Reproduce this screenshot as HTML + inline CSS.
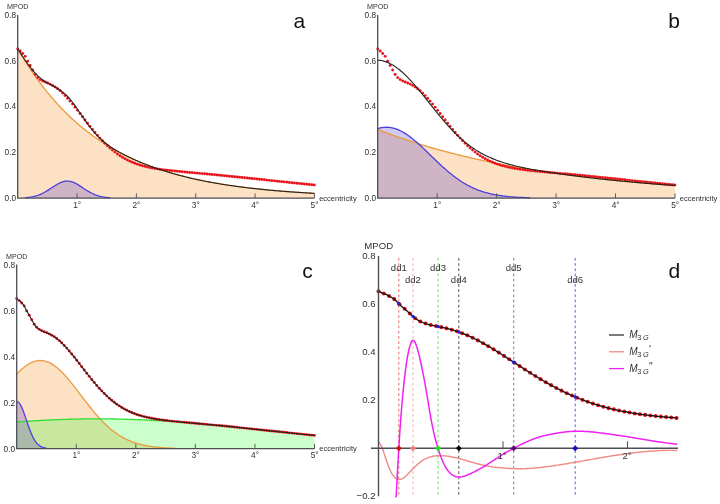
<!DOCTYPE html>
<html><head><meta charset="utf-8"><title>MPOD fits</title>
<style>
html,body{margin:0;padding:0;background:#fff}
svg{display:block}
text{font-family:"Liberation Sans",sans-serif;fill:#303030}
.t{font-size:8.3px}
.m{font-size:7.15px}
.e{font-size:7.5px}
.L{font-size:21px;fill:#111}
.td{font-size:9.6px}
.dl{font-size:9.5px}
.lg{font-size:10px;font-style:italic}
</style></head><body>
<svg width="720" height="504" viewBox="0 0 720 504">
<rect width="720" height="504" fill="#fff"/>
<path d="M17.7 48.76 L18.89 50.81 L20.07 52.82 L21.26 54.81 L22.45 56.78 L23.63 58.71 L24.82 60.62 L26.01 62.5 L27.19 64.36 L28.38 66.19 L29.57 68 L30.75 69.78 L31.94 71.54 L33.13 73.27 L34.32 74.98 L35.5 76.67 L36.69 78.33 L37.88 79.98 L39.06 81.59 L40.25 83.19 L41.44 84.76 L42.62 86.32 L43.81 87.85 L45 89.36 L46.18 90.85 L47.37 92.32 L48.56 93.77 L49.74 95.19 L50.93 96.6 L52.12 97.99 L53.3 99.37 L54.49 100.72 L55.68 102.05 L56.86 103.37 L58.05 104.67 L59.24 105.95 L60.42 107.21 L61.61 108.45 L62.8 109.68 L63.99 110.89 L65.17 112.09 L66.36 113.26 L67.55 114.43 L68.73 115.57 L69.92 116.7 L71.11 117.82 L72.29 118.92 L73.48 120 L74.67 121.07 L75.85 122.13 L77.04 123.17 L78.23 124.2 L79.41 125.21 L80.6 126.21 L81.79 127.19 L82.97 128.16 L84.16 129.12 L85.35 130.07 L86.53 131 L87.72 131.92 L88.91 132.82 L90.09 133.72 L91.28 134.6 L92.47 135.47 L93.66 136.33 L94.84 137.17 L96.03 138.01 L97.22 138.83 L98.4 139.64 L99.59 140.44 L100.78 141.23 L101.96 142.01 L103.15 142.78 L104.34 143.54 L105.52 144.29 L106.71 145.02 L107.9 145.75 L109.08 146.47 L110.27 147.17 L111.46 147.87 L112.64 148.56 L113.83 149.24 L115.02 149.91 L116.2 150.57 L117.39 151.22 L118.58 151.86 L119.76 152.49 L120.95 153.12 L122.14 153.74 L123.33 154.34 L124.51 154.94 L125.7 155.53 L126.89 156.12 L128.07 156.69 L129.26 157.26 L130.45 157.82 L131.63 158.37 L132.82 158.91 L134.01 159.45 L135.19 159.98 L136.38 160.5 L137.57 161.02 L138.75 161.53 L139.94 162.03 L141.13 162.52 L142.31 163.01 L143.5 163.49 L144.69 163.96 L145.87 164.43 L147.06 164.89 L148.25 165.35 L149.43 165.8 L150.62 166.24 L151.81 166.67 L153 167.11 L154.18 167.53 L155.37 167.95 L156.56 168.36 L157.74 168.77 L158.93 169.17 L160.12 169.57 L161.3 169.96 L162.49 170.34 L163.68 170.72 L164.86 171.1 L166.05 171.47 L167.24 171.83 L168.42 172.19 L169.61 172.55 L170.8 172.9 L171.98 173.24 L173.17 173.58 L174.36 173.92 L175.54 174.25 L176.73 174.58 L177.92 174.9 L179.1 175.22 L180.29 175.53 L181.48 175.84 L182.67 176.15 L183.85 176.45 L185.04 176.74 L186.23 177.04 L187.41 177.32 L188.6 177.61 L189.79 177.89 L190.97 178.17 L192.16 178.44 L193.35 178.71 L194.53 178.97 L195.72 179.24 L196.91 179.49 L198.09 179.75 L199.28 180 L200.47 180.25 L201.65 180.49 L202.84 180.73 L204.03 180.97 L205.21 181.21 L206.4 181.44 L207.59 181.67 L208.77 181.89 L209.96 182.11 L211.15 182.33 L212.34 182.55 L213.52 182.76 L214.71 182.97 L215.9 183.18 L217.08 183.38 L218.27 183.58 L219.46 183.78 L220.64 183.98 L221.83 184.17 L223.02 184.36 L224.2 184.55 L225.39 184.74 L226.58 184.92 L227.76 185.1 L228.95 185.28 L230.14 185.46 L231.32 185.63 L232.51 185.8 L233.7 185.97 L234.88 186.13 L236.07 186.3 L237.26 186.46 L238.44 186.62 L239.63 186.78 L240.82 186.93 L242.01 187.08 L243.19 187.24 L244.38 187.38 L245.57 187.53 L246.75 187.68 L247.94 187.82 L249.13 187.96 L250.31 188.1 L251.5 188.24 L252.69 188.37 L253.87 188.5 L255.06 188.63 L256.25 188.76 L257.43 188.89 L258.62 189.02 L259.81 189.14 L260.99 189.27 L262.18 189.39 L263.37 189.51 L264.55 189.62 L265.74 189.74 L266.93 189.85 L268.11 189.97 L269.3 190.08 L270.49 190.19 L271.68 190.3 L272.86 190.4 L274.05 190.51 L275.24 190.61 L276.42 190.72 L277.61 190.82 L278.8 190.92 L279.98 191.02 L281.17 191.11 L282.36 191.21 L283.54 191.3 L284.73 191.4 L285.92 191.49 L287.1 191.58 L288.29 191.67 L289.48 191.76 L290.66 191.84 L291.85 191.93 L293.04 192.01 L294.22 192.1 L295.41 192.18 L296.6 192.26 L297.78 192.34 L298.97 192.42 L300.16 192.5 L301.35 192.57 L302.53 192.65 L303.72 192.72 L304.91 192.8 L306.09 192.87 L307.28 192.94 L308.47 193.01 L309.65 193.08 L310.84 193.15 L312.03 193.22 L313.21 193.28 L314.4 193.35 L314.4 198.1 L17.7 198.1 Z" fill="#f79b3e" fill-opacity="0.3"/>
<path d="M17.7 197.99 L18.89 197.97 L20.07 197.93 L21.26 197.89 L22.45 197.83 L23.63 197.77 L24.82 197.69 L26.01 197.6 L27.19 197.49 L28.38 197.35 L29.57 197.2 L30.75 197.02 L31.94 196.81 L33.13 196.57 L34.32 196.3 L35.5 195.99 L36.69 195.64 L37.88 195.25 L39.06 194.82 L40.25 194.34 L41.44 193.82 L42.62 193.26 L43.81 192.65 L45 192 L46.18 191.32 L47.37 190.6 L48.56 189.85 L49.74 189.09 L50.93 188.31 L52.12 187.52 L53.3 186.74 L54.49 185.97 L55.68 185.22 L56.86 184.51 L58.05 183.84 L59.24 183.23 L60.42 182.67 L61.61 182.19 L62.8 181.8 L63.99 181.48 L65.17 181.26 L66.36 181.14 L67.55 181.12 L68.73 181.19 L69.92 181.36 L71.11 181.63 L72.29 181.98 L73.48 182.42 L74.67 182.94 L75.85 183.53 L77.04 184.17 L78.23 184.86 L79.41 185.59 L80.6 186.35 L81.79 187.13 L82.97 187.92 L84.16 188.7 L85.35 189.47 L86.53 190.23 L87.72 190.96 L88.91 191.66 L90.09 192.33 L91.28 192.96 L92.47 193.54 L93.66 194.09 L94.84 194.58 L96.03 195.04 L97.22 195.45 L98.4 195.82 L99.59 196.15 L100.78 196.44 L101.96 196.7 L103.15 196.92 L104.34 197.11 L105.52 197.28 L106.71 197.42 L107.9 197.54 L109.08 197.65 L110.27 197.73 L111.46 197.8 L112.64 197.86 L113.83 197.91 L115.02 197.95 L116.2 197.98 L117.39 198.01 L118.58 198.03 L119.76 198.04 L120.95 198.06 L122.14 198.07 L123.33 198.07 L124.51 198.08 L125.7 198.09 L126.89 198.09 L128.07 198.09 L129.26 198.09 L130.45 198.1 L131.63 198.1 L132.82 198.1 L134.01 198.1 L135.19 198.1 L136.38 198.1 L137.57 198.1 L138.75 198.1 L139.94 198.1 L141.13 198.1 L142.31 198.1 L143.5 198.1 L144.69 198.1 L145.87 198.1 L147.06 198.1 L148.25 198.1 L149.43 198.1 L150.62 198.1 L151.81 198.1 L153 198.1 L154.18 198.1 L155.37 198.1 L156.56 198.1 L157.74 198.1 L158.93 198.1 L160.12 198.1 L161.3 198.1 L162.49 198.1 L163.68 198.1 L164.86 198.1 L166.05 198.1 L167.24 198.1 L168.42 198.1 L169.61 198.1 L170.8 198.1 L171.98 198.1 L173.17 198.1 L174.36 198.1 L175.54 198.1 L176.73 198.1 L177.92 198.1 L179.1 198.1 L180.29 198.1 L181.48 198.1 L182.67 198.1 L183.85 198.1 L185.04 198.1 L186.23 198.1 L187.41 198.1 L188.6 198.1 L189.79 198.1 L190.97 198.1 L192.16 198.1 L193.35 198.1 L194.53 198.1 L195.72 198.1 L196.91 198.1 L198.09 198.1 L199.28 198.1 L200.47 198.1 L201.65 198.1 L202.84 198.1 L204.03 198.1 L205.21 198.1 L206.4 198.1 L207.59 198.1 L208.77 198.1 L209.96 198.1 L211.15 198.1 L212.34 198.1 L213.52 198.1 L214.71 198.1 L215.9 198.1 L217.08 198.1 L218.27 198.1 L219.46 198.1 L220.64 198.1 L221.83 198.1 L223.02 198.1 L224.2 198.1 L225.39 198.1 L226.58 198.1 L227.76 198.1 L228.95 198.1 L230.14 198.1 L231.32 198.1 L232.51 198.1 L233.7 198.1 L234.88 198.1 L236.07 198.1 L237.26 198.1 L238.44 198.1 L239.63 198.1 L240.82 198.1 L242.01 198.1 L243.19 198.1 L244.38 198.1 L245.57 198.1 L246.75 198.1 L247.94 198.1 L249.13 198.1 L250.31 198.1 L251.5 198.1 L252.69 198.1 L253.87 198.1 L255.06 198.1 L256.25 198.1 L257.43 198.1 L258.62 198.1 L259.81 198.1 L260.99 198.1 L262.18 198.1 L263.37 198.1 L264.55 198.1 L265.74 198.1 L266.93 198.1 L268.11 198.1 L269.3 198.1 L270.49 198.1 L271.68 198.1 L272.86 198.1 L274.05 198.1 L275.24 198.1 L276.42 198.1 L277.61 198.1 L278.8 198.1 L279.98 198.1 L281.17 198.1 L282.36 198.1 L283.54 198.1 L284.73 198.1 L285.92 198.1 L287.1 198.1 L288.29 198.1 L289.48 198.1 L290.66 198.1 L291.85 198.1 L293.04 198.1 L294.22 198.1 L295.41 198.1 L296.6 198.1 L297.78 198.1 L298.97 198.1 L300.16 198.1 L301.35 198.1 L302.53 198.1 L303.72 198.1 L304.91 198.1 L306.09 198.1 L307.28 198.1 L308.47 198.1 L309.65 198.1 L310.84 198.1 L312.03 198.1 L313.21 198.1 L314.4 198.1 L314.4 198.1 L17.7 198.1 Z" fill="#5a40c8" fill-opacity="0.28"/>
<path d="M17.7 48.76 L18.89 50.81 L20.07 52.82 L21.26 54.81 L22.45 56.78 L23.63 58.71 L24.82 60.62 L26.01 62.5 L27.19 64.36 L28.38 66.19 L29.57 68 L30.75 69.78 L31.94 71.54 L33.13 73.27 L34.32 74.98 L35.5 76.67 L36.69 78.33 L37.88 79.98 L39.06 81.59 L40.25 83.19 L41.44 84.76 L42.62 86.32 L43.81 87.85 L45 89.36 L46.18 90.85 L47.37 92.32 L48.56 93.77 L49.74 95.19 L50.93 96.6 L52.12 97.99 L53.3 99.37 L54.49 100.72 L55.68 102.05 L56.86 103.37 L58.05 104.67 L59.24 105.95 L60.42 107.21 L61.61 108.45 L62.8 109.68 L63.99 110.89 L65.17 112.09 L66.36 113.26 L67.55 114.43 L68.73 115.57 L69.92 116.7 L71.11 117.82 L72.29 118.92 L73.48 120 L74.67 121.07 L75.85 122.13 L77.04 123.17 L78.23 124.2 L79.41 125.21 L80.6 126.21 L81.79 127.19 L82.97 128.16 L84.16 129.12 L85.35 130.07 L86.53 131 L87.72 131.92 L88.91 132.82 L90.09 133.72 L91.28 134.6 L92.47 135.47 L93.66 136.33 L94.84 137.17 L96.03 138.01 L97.22 138.83 L98.4 139.64 L99.59 140.44 L100.78 141.23 L101.96 142.01 L103.15 142.78 L104.34 143.54 L105.52 144.29 L106.71 145.02 L107.9 145.75 L109.08 146.47 L110.27 147.17 L111.46 147.87 L112.64 148.56 L113.83 149.24 L115.02 149.91 L116.2 150.57 L117.39 151.22 L118.58 151.86 L119.76 152.49 L120.95 153.12 L122.14 153.74 L123.33 154.34 L124.51 154.94 L125.7 155.53 L126.89 156.12 L128.07 156.69 L129.26 157.26 L130.45 157.82 L131.63 158.37 L132.82 158.91 L134.01 159.45 L135.19 159.98 L136.38 160.5 L137.57 161.02 L138.75 161.53 L139.94 162.03 L141.13 162.52 L142.31 163.01 L143.5 163.49 L144.69 163.96 L145.87 164.43 L147.06 164.89 L148.25 165.35 L149.43 165.8 L150.62 166.24 L151.81 166.67 L153 167.11 L154.18 167.53 L155.37 167.95 L156.56 168.36 L157.74 168.77 L158.93 169.17 L160.12 169.57 L161.3 169.96 L162.49 170.34 L163.68 170.72 L164.86 171.1 L166.05 171.47 L167.24 171.83 L168.42 172.19 L169.61 172.55 L170.8 172.9 L171.98 173.24 L173.17 173.58 L174.36 173.92 L175.54 174.25 L176.73 174.58 L177.92 174.9 L179.1 175.22 L180.29 175.53 L181.48 175.84 L182.67 176.15 L183.85 176.45 L185.04 176.74 L186.23 177.04 L187.41 177.32 L188.6 177.61 L189.79 177.89 L190.97 178.17 L192.16 178.44 L193.35 178.71 L194.53 178.97 L195.72 179.24 L196.91 179.49 L198.09 179.75 L199.28 180 L200.47 180.25 L201.65 180.49 L202.84 180.73 L204.03 180.97 L205.21 181.21 L206.4 181.44 L207.59 181.67 L208.77 181.89 L209.96 182.11 L211.15 182.33 L212.34 182.55 L213.52 182.76 L214.71 182.97 L215.9 183.18 L217.08 183.38 L218.27 183.58 L219.46 183.78 L220.64 183.98 L221.83 184.17 L223.02 184.36 L224.2 184.55 L225.39 184.74 L226.58 184.92 L227.76 185.1 L228.95 185.28 L230.14 185.46 L231.32 185.63 L232.51 185.8 L233.7 185.97 L234.88 186.13 L236.07 186.3 L237.26 186.46 L238.44 186.62 L239.63 186.78 L240.82 186.93 L242.01 187.08 L243.19 187.24 L244.38 187.38 L245.57 187.53 L246.75 187.68 L247.94 187.82 L249.13 187.96 L250.31 188.1 L251.5 188.24 L252.69 188.37 L253.87 188.5 L255.06 188.63 L256.25 188.76 L257.43 188.89 L258.62 189.02 L259.81 189.14 L260.99 189.27 L262.18 189.39 L263.37 189.51 L264.55 189.62 L265.74 189.74 L266.93 189.85 L268.11 189.97 L269.3 190.08 L270.49 190.19 L271.68 190.3 L272.86 190.4 L274.05 190.51 L275.24 190.61 L276.42 190.72 L277.61 190.82 L278.8 190.92 L279.98 191.02 L281.17 191.11 L282.36 191.21 L283.54 191.3 L284.73 191.4 L285.92 191.49 L287.1 191.58 L288.29 191.67 L289.48 191.76 L290.66 191.84 L291.85 191.93 L293.04 192.01 L294.22 192.1 L295.41 192.18 L296.6 192.26 L297.78 192.34 L298.97 192.42 L300.16 192.5 L301.35 192.57 L302.53 192.65 L303.72 192.72 L304.91 192.8 L306.09 192.87 L307.28 192.94 L308.47 193.01 L309.65 193.08 L310.84 193.15 L312.03 193.22 L313.21 193.28 L314.4 193.35" fill="none" stroke="#ea9a3c" stroke-width="1.3"/>
<path d="M24.82 197.69 L26.01 197.6 L27.19 197.49 L28.38 197.35 L29.57 197.2 L30.75 197.02 L31.94 196.81 L33.13 196.57 L34.32 196.3 L35.5 195.99 L36.69 195.64 L37.88 195.25 L39.06 194.82 L40.25 194.34 L41.44 193.82 L42.62 193.26 L43.81 192.65 L45 192 L46.18 191.32 L47.37 190.6 L48.56 189.85 L49.74 189.09 L50.93 188.31 L52.12 187.52 L53.3 186.74 L54.49 185.97 L55.68 185.22 L56.86 184.51 L58.05 183.84 L59.24 183.23 L60.42 182.67 L61.61 182.19 L62.8 181.8 L63.99 181.48 L65.17 181.26 L66.36 181.14 L67.55 181.12 L68.73 181.19 L69.92 181.36 L71.11 181.63 L72.29 181.98 L73.48 182.42 L74.67 182.94 L75.85 183.53 L77.04 184.17 L78.23 184.86 L79.41 185.59 L80.6 186.35 L81.79 187.13 L82.97 187.92 L84.16 188.7 L85.35 189.47 L86.53 190.23 L87.72 190.96 L88.91 191.66 L90.09 192.33 L91.28 192.96 L92.47 193.54 L93.66 194.09 L94.84 194.58 L96.03 195.04 L97.22 195.45 L98.4 195.82 L99.59 196.15 L100.78 196.44 L101.96 196.7 L103.15 196.92 L104.34 197.11 L105.52 197.28 L106.71 197.42 L107.9 197.54 L109.08 197.65 L110.27 197.73" fill="none" stroke="#4a3fe0" stroke-width="1.3"/>
<g fill="#e8121a"><circle cx="17.7" cy="49" r="1.45"/><circle cx="20.19" cy="51.07" r="1.45"/><circle cx="22.68" cy="53.44" r="1.45"/><circle cx="25.18" cy="56.36" r="1.45"/><circle cx="27.67" cy="61.3" r="1.45"/><circle cx="30.16" cy="65.53" r="1.45"/><circle cx="32.65" cy="70.06" r="1.45"/><circle cx="35.15" cy="74.53" r="1.45"/><circle cx="37.64" cy="77.59" r="1.45"/><circle cx="40.13" cy="79.61" r="1.45"/><circle cx="42.62" cy="80.97" r="1.45"/><circle cx="45.12" cy="82.03" r="1.45"/><circle cx="47.61" cy="83.03" r="1.45"/><circle cx="50.1" cy="84.12" r="1.45"/><circle cx="52.59" cy="85.42" r="1.45"/><circle cx="55.08" cy="86.96" r="1.45"/><circle cx="57.58" cy="88.76" r="1.45"/><circle cx="60.07" cy="90.81" r="1.45"/><circle cx="62.56" cy="93.09" r="1.45"/><circle cx="65.05" cy="95.59" r="1.45"/><circle cx="67.55" cy="98.27" r="1.45"/><circle cx="70.04" cy="101.11" r="1.45"/><circle cx="72.53" cy="104.09" r="1.45"/><circle cx="75.02" cy="107.17" r="1.45"/><circle cx="77.51" cy="110.33" r="1.45"/><circle cx="80.01" cy="113.53" r="1.45"/><circle cx="82.5" cy="116.76" r="1.45"/><circle cx="84.99" cy="119.99" r="1.45"/><circle cx="87.48" cy="123.19" r="1.45"/><circle cx="89.98" cy="126.34" r="1.45"/><circle cx="92.47" cy="129.43" r="1.45"/><circle cx="94.96" cy="132.43" r="1.45"/><circle cx="97.45" cy="135.33" r="1.45"/><circle cx="99.95" cy="138.12" r="1.45"/><circle cx="102.44" cy="140.79" r="1.45"/><circle cx="104.93" cy="143.33" r="1.45"/><circle cx="107.42" cy="145.73" r="1.45"/><circle cx="109.91" cy="147.99" r="1.45"/><circle cx="112.41" cy="150.12" r="1.45"/><circle cx="114.9" cy="152.09" r="1.45"/><circle cx="117.39" cy="153.93" r="1.45"/><circle cx="119.88" cy="155.64" r="1.45"/><circle cx="122.38" cy="157.2" r="1.45"/><circle cx="124.87" cy="158.64" r="1.45"/><circle cx="127.36" cy="159.96" r="1.45"/><circle cx="129.85" cy="161.17" r="1.45"/><circle cx="132.34" cy="162.26" r="1.45"/><circle cx="134.84" cy="163.25" r="1.45"/><circle cx="137.33" cy="164.15" r="1.45"/><circle cx="139.82" cy="164.97" r="1.45"/><circle cx="142.31" cy="165.71" r="1.45"/><circle cx="144.81" cy="166.37" r="1.45"/><circle cx="147.3" cy="166.97" r="1.45"/><circle cx="149.79" cy="167.52" r="1.45"/><circle cx="152.28" cy="168.01" r="1.45"/><circle cx="154.78" cy="168.46" r="1.45"/><circle cx="157.27" cy="168.87" r="1.45"/><circle cx="159.76" cy="169.25" r="1.45"/><circle cx="162.25" cy="169.6" r="1.45"/><circle cx="164.74" cy="169.92" r="1.45"/><circle cx="167.24" cy="170.23" r="1.45"/><circle cx="169.73" cy="170.51" r="1.45"/><circle cx="172.22" cy="170.78" r="1.45"/><circle cx="174.71" cy="171.04" r="1.45"/><circle cx="177.21" cy="171.29" r="1.45"/><circle cx="179.7" cy="171.53" r="1.45"/><circle cx="182.19" cy="171.76" r="1.45"/><circle cx="184.68" cy="172" r="1.45"/><circle cx="187.18" cy="172.22" r="1.45"/><circle cx="189.67" cy="172.45" r="1.45"/><circle cx="192.16" cy="172.67" r="1.45"/><circle cx="194.65" cy="172.9" r="1.45"/><circle cx="197.14" cy="173.12" r="1.45"/><circle cx="199.64" cy="173.35" r="1.45"/><circle cx="202.13" cy="173.58" r="1.45"/><circle cx="204.62" cy="173.81" r="1.45"/><circle cx="207.11" cy="174.04" r="1.45"/><circle cx="209.61" cy="174.27" r="1.45"/><circle cx="212.1" cy="174.5" r="1.45"/><circle cx="214.59" cy="174.74" r="1.45"/><circle cx="217.08" cy="174.98" r="1.45"/><circle cx="219.57" cy="175.22" r="1.45"/><circle cx="222.07" cy="175.46" r="1.45"/><circle cx="224.56" cy="175.71" r="1.45"/><circle cx="227.05" cy="175.95" r="1.45"/><circle cx="229.54" cy="176.2" r="1.45"/><circle cx="232.04" cy="176.45" r="1.45"/><circle cx="234.53" cy="176.7" r="1.45"/><circle cx="237.02" cy="176.96" r="1.45"/><circle cx="239.51" cy="177.21" r="1.45"/><circle cx="242.01" cy="177.47" r="1.45"/><circle cx="244.5" cy="177.73" r="1.45"/><circle cx="246.99" cy="177.99" r="1.45"/><circle cx="249.48" cy="178.24" r="1.45"/><circle cx="251.97" cy="178.5" r="1.45"/><circle cx="254.47" cy="178.77" r="1.45"/><circle cx="256.96" cy="179.03" r="1.45"/><circle cx="259.45" cy="179.29" r="1.45"/><circle cx="261.94" cy="179.55" r="1.45"/><circle cx="264.44" cy="179.82" r="1.45"/><circle cx="266.93" cy="180.08" r="1.45"/><circle cx="269.42" cy="180.34" r="1.45"/><circle cx="271.91" cy="180.6" r="1.45"/><circle cx="274.4" cy="180.87" r="1.45"/><circle cx="276.9" cy="181.13" r="1.45"/><circle cx="279.39" cy="181.39" r="1.45"/><circle cx="281.88" cy="181.65" r="1.45"/><circle cx="284.37" cy="181.91" r="1.45"/><circle cx="286.87" cy="182.17" r="1.45"/><circle cx="289.36" cy="182.43" r="1.45"/><circle cx="291.85" cy="182.69" r="1.45"/><circle cx="294.34" cy="182.95" r="1.45"/><circle cx="296.84" cy="183.21" r="1.45"/><circle cx="299.33" cy="183.46" r="1.45"/><circle cx="301.82" cy="183.72" r="1.45"/><circle cx="304.31" cy="183.97" r="1.45"/><circle cx="306.8" cy="184.22" r="1.45"/><circle cx="309.3" cy="184.47" r="1.45"/><circle cx="311.79" cy="184.72" r="1.45"/><circle cx="314.28" cy="184.96" r="1.45"/></g>
<path d="M17.7 48.51 L18.89 50.5 L20.07 52.45 L21.26 54.36 L22.45 56.23 L23.63 58.05 L24.82 59.83 L26.01 61.56 L27.19 63.24 L28.38 64.87 L29.57 66.45 L30.75 67.97 L31.94 69.43 L33.13 70.84 L34.32 72.18 L35.5 73.46 L36.69 74.68 L37.88 75.83 L39.06 76.92 L40.25 77.95 L41.44 78.92 L42.62 79.82 L43.81 80.68 L45 81.48 L46.18 82.23 L47.37 82.94 L48.56 83.62 L49.74 84.27 L50.93 84.9 L52.12 85.52 L53.3 86.14 L54.49 86.76 L55.68 87.4 L56.86 88.07 L58.05 88.77 L59.24 89.51 L60.42 90.31 L61.61 91.16 L62.8 92.08 L63.99 93.06 L65.17 94.12 L66.36 95.25 L67.55 96.46 L68.73 97.74 L69.92 99.1 L71.11 100.53 L72.29 102.02 L73.48 103.57 L74.67 105.18 L75.85 106.83 L77.04 108.52 L78.23 110.24 L79.41 111.98 L80.6 113.73 L81.79 115.49 L82.97 117.24 L84.16 118.97 L85.35 120.69 L86.53 122.38 L87.72 124.03 L88.91 125.65 L90.09 127.22 L91.28 128.75 L92.47 130.23 L93.66 131.66 L94.84 133.03 L96.03 134.35 L97.22 135.62 L98.4 136.84 L99.59 138.01 L100.78 139.13 L101.96 140.2 L103.15 141.23 L104.34 142.22 L105.52 143.17 L106.71 144.08 L107.9 144.96 L109.08 145.81 L110.27 146.63 L111.46 147.42 L112.64 148.19 L113.83 148.93 L115.02 149.66 L116.2 150.37 L117.39 151.06 L118.58 151.73 L119.76 152.39 L120.95 153.04 L122.14 153.67 L123.33 154.29 L124.51 154.9 L125.7 155.5 L126.89 156.09 L128.07 156.67 L129.26 157.25 L130.45 157.81 L131.63 158.36 L132.82 158.91 L134.01 159.45 L135.19 159.98 L136.38 160.5 L137.57 161.02 L138.75 161.52 L139.94 162.03 L141.13 162.52 L142.31 163.01 L143.5 163.49 L144.69 163.96 L145.87 164.43 L147.06 164.89 L148.25 165.35 L149.43 165.8 L150.62 166.24 L151.81 166.67 L153 167.11 L154.18 167.53 L155.37 167.95 L156.56 168.36 L157.74 168.77 L158.93 169.17 L160.12 169.57 L161.3 169.96 L162.49 170.34 L163.68 170.72 L164.86 171.1 L166.05 171.47 L167.24 171.83 L168.42 172.19 L169.61 172.55 L170.8 172.9 L171.98 173.24 L173.17 173.58 L174.36 173.92 L175.54 174.25 L176.73 174.58 L177.92 174.9 L179.1 175.22 L180.29 175.53 L181.48 175.84 L182.67 176.15 L183.85 176.45 L185.04 176.74 L186.23 177.04 L187.41 177.32 L188.6 177.61 L189.79 177.89 L190.97 178.17 L192.16 178.44 L193.35 178.71 L194.53 178.97 L195.72 179.24 L196.91 179.49 L198.09 179.75 L199.28 180 L200.47 180.25 L201.65 180.49 L202.84 180.73 L204.03 180.97 L205.21 181.21 L206.4 181.44 L207.59 181.67 L208.77 181.89 L209.96 182.11 L211.15 182.33 L212.34 182.55 L213.52 182.76 L214.71 182.97 L215.9 183.18 L217.08 183.38 L218.27 183.58 L219.46 183.78 L220.64 183.98 L221.83 184.17 L223.02 184.36 L224.2 184.55 L225.39 184.74 L226.58 184.92 L227.76 185.1 L228.95 185.28 L230.14 185.46 L231.32 185.63 L232.51 185.8 L233.7 185.97 L234.88 186.13 L236.07 186.3 L237.26 186.46 L238.44 186.62 L239.63 186.78 L240.82 186.93 L242.01 187.08 L243.19 187.24 L244.38 187.38 L245.57 187.53 L246.75 187.68 L247.94 187.82 L249.13 187.96 L250.31 188.1 L251.5 188.24 L252.69 188.37 L253.87 188.5 L255.06 188.63 L256.25 188.76 L257.43 188.89 L258.62 189.02 L259.81 189.14 L260.99 189.27 L262.18 189.39 L263.37 189.51 L264.55 189.62 L265.74 189.74 L266.93 189.85 L268.11 189.97 L269.3 190.08 L270.49 190.19 L271.68 190.3 L272.86 190.4 L274.05 190.51 L275.24 190.61 L276.42 190.72 L277.61 190.82 L278.8 190.92 L279.98 191.02 L281.17 191.11 L282.36 191.21 L283.54 191.3 L284.73 191.4 L285.92 191.49 L287.1 191.58 L288.29 191.67 L289.48 191.76 L290.66 191.84 L291.85 191.93 L293.04 192.01 L294.22 192.1 L295.41 192.18 L296.6 192.26 L297.78 192.34 L298.97 192.42 L300.16 192.5 L301.35 192.57 L302.53 192.65 L303.72 192.72 L304.91 192.8 L306.09 192.87 L307.28 192.94 L308.47 193.01 L309.65 193.08 L310.84 193.15 L312.03 193.22 L313.21 193.28 L314.4 193.35" fill="none" stroke="#222" stroke-width="1.1"/>
<path d="M17.7 14.9 V198.1 H314.4" fill="none" stroke="#4d4d55" stroke-width="1.3"/>
<path d="M77.04 198.1 v-4.8 M136.38 198.1 v-4.8 M195.72 198.1 v-4.8 M255.06 198.1 v-4.8 M314.4 198.1 v-4.8 " fill="none" stroke="#4d4d55" stroke-width="0.9"/>
<text x="77.14" y="208.1" class="t" text-anchor="middle">1°</text>
<text x="136.48" y="208.1" class="t" text-anchor="middle">2°</text>
<text x="195.82" y="208.1" class="t" text-anchor="middle">3°</text>
<text x="255.16" y="208.1" class="t" text-anchor="middle">4°</text>
<text x="314.5" y="208.1" class="t" text-anchor="middle">5°</text>
<text x="16.1" y="200.5" class="t" text-anchor="end">0.0</text>
<text x="16.1" y="154.9" class="t" text-anchor="end">0.2</text>
<text x="16.1" y="109.3" class="t" text-anchor="end">0.4</text>
<text x="16.1" y="63.7" class="t" text-anchor="end">0.6</text>
<text x="16.1" y="18.1" class="t" text-anchor="end">0.8</text>
<text x="17.8" y="9.4" class="m" text-anchor="middle">MPOD</text>
<text x="319.2" y="200.9" class="e">eccentricity</text>
<text x="299.4" y="27.6" class="L" text-anchor="middle">a</text>
<path d="M377.7 129.54 L378.89 130 L380.08 130.47 L381.27 130.92 L382.46 131.38 L383.65 131.83 L384.84 132.28 L386.02 132.73 L387.21 133.17 L388.4 133.61 L389.59 134.05 L390.78 134.48 L391.97 134.91 L393.16 135.34 L394.35 135.76 L395.54 136.19 L396.73 136.6 L397.92 137.02 L399.11 137.44 L400.29 137.85 L401.48 138.25 L402.67 138.66 L403.86 139.06 L405.05 139.46 L406.24 139.86 L407.43 140.25 L408.62 140.65 L409.81 141.03 L411 141.42 L412.19 141.81 L413.38 142.19 L414.57 142.57 L415.75 142.94 L416.94 143.32 L418.13 143.69 L419.32 144.05 L420.51 144.42 L421.7 144.78 L422.89 145.15 L424.08 145.5 L425.27 145.86 L426.46 146.21 L427.65 146.57 L428.84 146.92 L430.02 147.26 L431.21 147.61 L432.4 147.95 L433.59 148.29 L434.78 148.63 L435.97 148.96 L437.16 149.29 L438.35 149.62 L439.54 149.95 L440.73 150.28 L441.92 150.6 L443.11 150.92 L444.3 151.24 L445.48 151.56 L446.67 151.88 L447.86 152.19 L449.05 152.5 L450.24 152.81 L451.43 153.12 L452.62 153.42 L453.81 153.72 L455 154.02 L456.19 154.32 L457.38 154.62 L458.57 154.91 L459.75 155.21 L460.94 155.5 L462.13 155.79 L463.32 156.07 L464.51 156.36 L465.7 156.64 L466.89 156.92 L468.08 157.2 L469.27 157.48 L470.46 157.75 L471.65 158.02 L472.84 158.3 L474.03 158.57 L475.21 158.83 L476.4 159.1 L477.59 159.36 L478.78 159.63 L479.97 159.89 L481.16 160.15 L482.35 160.4 L483.54 160.66 L484.73 160.91 L485.92 161.16 L487.11 161.41 L488.3 161.66 L489.48 161.91 L490.67 162.15 L491.86 162.4 L493.05 162.64 L494.24 162.88 L495.43 163.12 L496.62 163.36 L497.81 163.59 L499 163.82 L500.19 164.06 L501.38 164.29 L502.57 164.52 L503.76 164.74 L504.94 164.97 L506.13 165.19 L507.32 165.42 L508.51 165.64 L509.7 165.86 L510.89 166.08 L512.08 166.29 L513.27 166.51 L514.46 166.72 L515.65 166.94 L516.84 167.15 L518.03 167.36 L519.21 167.56 L520.4 167.77 L521.59 167.98 L522.78 168.18 L523.97 168.38 L525.16 168.58 L526.35 168.78 L527.54 168.98 L528.73 169.18 L529.92 169.38 L531.11 169.57 L532.3 169.76 L533.49 169.96 L534.67 170.15 L535.86 170.34 L537.05 170.52 L538.24 170.71 L539.43 170.9 L540.62 171.08 L541.81 171.26 L543 171.45 L544.19 171.63 L545.38 171.81 L546.57 171.98 L547.76 172.16 L548.94 172.34 L550.13 172.51 L551.32 172.68 L552.51 172.86 L553.7 173.03 L554.89 173.2 L556.08 173.37 L557.27 173.53 L558.46 173.7 L559.65 173.86 L560.84 174.03 L562.03 174.19 L563.22 174.35 L564.4 174.51 L565.59 174.67 L566.78 174.83 L567.97 174.99 L569.16 175.15 L570.35 175.3 L571.54 175.46 L572.73 175.61 L573.92 175.76 L575.11 175.91 L576.3 176.06 L577.49 176.21 L578.67 176.36 L579.86 176.51 L581.05 176.66 L582.24 176.8 L583.43 176.95 L584.62 177.09 L585.81 177.23 L587 177.37 L588.19 177.51 L589.38 177.65 L590.57 177.79 L591.76 177.93 L592.95 178.06 L594.13 178.2 L595.32 178.34 L596.51 178.47 L597.7 178.6 L598.89 178.73 L600.08 178.87 L601.27 179 L602.46 179.12 L603.65 179.25 L604.84 179.38 L606.03 179.51 L607.22 179.63 L608.4 179.76 L609.59 179.88 L610.78 180.01 L611.97 180.13 L613.16 180.25 L614.35 180.37 L615.54 180.49 L616.73 180.61 L617.92 180.73 L619.11 180.85 L620.3 180.96 L621.49 181.08 L622.68 181.2 L623.86 181.31 L625.05 181.42 L626.24 181.54 L627.43 181.65 L628.62 181.76 L629.81 181.87 L631 181.98 L632.19 182.09 L633.38 182.2 L634.57 182.31 L635.76 182.41 L636.95 182.52 L638.13 182.63 L639.32 182.73 L640.51 182.83 L641.7 182.94 L642.89 183.04 L644.08 183.14 L645.27 183.24 L646.46 183.34 L647.65 183.44 L648.84 183.54 L650.03 183.64 L651.22 183.74 L652.41 183.84 L653.59 183.93 L654.78 184.03 L655.97 184.12 L657.16 184.22 L658.35 184.31 L659.54 184.41 L660.73 184.5 L661.92 184.59 L663.11 184.68 L664.3 184.77 L665.49 184.86 L666.68 184.95 L667.86 185.04 L669.05 185.13 L670.24 185.22 L671.43 185.31 L672.62 185.39 L673.81 185.48 L675 185.56 L675 198.1 L377.7 198.1 Z" fill="#f79b3e" fill-opacity="0.3"/>
<path d="M377.7 128.62 L378.89 128.27 L380.08 127.98 L381.27 127.73 L382.46 127.54 L383.65 127.39 L384.84 127.3 L386.02 127.26 L387.21 127.27 L388.4 127.34 L389.59 127.45 L390.78 127.62 L391.97 127.83 L393.16 128.1 L394.35 128.42 L395.54 128.78 L396.73 129.2 L397.92 129.66 L399.11 130.17 L400.29 130.72 L401.48 131.32 L402.67 131.96 L403.86 132.64 L405.05 133.37 L406.24 134.13 L407.43 134.93 L408.62 135.76 L409.81 136.63 L411 137.53 L412.19 138.46 L413.38 139.42 L414.57 140.4 L415.75 141.41 L416.94 142.45 L418.13 143.5 L419.32 144.57 L420.51 145.67 L421.7 146.77 L422.89 147.89 L424.08 149.02 L425.27 150.16 L426.46 151.31 L427.65 152.46 L428.84 153.62 L430.02 154.78 L431.21 155.94 L432.4 157.1 L433.59 158.26 L434.78 159.41 L435.97 160.55 L437.16 161.69 L438.35 162.82 L439.54 163.94 L440.73 165.05 L441.92 166.15 L443.11 167.23 L444.3 168.3 L445.48 169.35 L446.67 170.38 L447.86 171.4 L449.05 172.4 L450.24 173.37 L451.43 174.33 L452.62 175.27 L453.81 176.19 L455 177.08 L456.19 177.96 L457.38 178.81 L458.57 179.64 L459.75 180.45 L460.94 181.23 L462.13 181.99 L463.32 182.73 L464.51 183.44 L465.7 184.13 L466.89 184.8 L468.08 185.45 L469.27 186.07 L470.46 186.67 L471.65 187.25 L472.84 187.81 L474.03 188.34 L475.21 188.86 L476.4 189.35 L477.59 189.82 L478.78 190.28 L479.97 190.71 L481.16 191.12 L482.35 191.52 L483.54 191.9 L484.73 192.26 L485.92 192.6 L487.11 192.93 L488.3 193.24 L489.48 193.54 L490.67 193.82 L491.86 194.09 L493.05 194.34 L494.24 194.58 L495.43 194.81 L496.62 195.02 L497.81 195.22 L499 195.41 L500.19 195.59 L501.38 195.76 L502.57 195.92 L503.76 196.07 L504.94 196.22 L506.13 196.35 L507.32 196.47 L508.51 196.59 L509.7 196.7 L510.89 196.8 L512.08 196.9 L513.27 196.99 L514.46 197.07 L515.65 197.15 L516.84 197.22 L518.03 197.29 L519.21 197.35 L520.4 197.41 L521.59 197.47 L522.78 197.52 L523.97 197.56 L525.16 197.61 L526.35 197.65 L527.54 197.69 L528.73 197.72 L529.92 197.75 L531.11 197.78 L532.3 197.81 L533.49 197.83 L534.67 197.86 L535.86 197.88 L537.05 197.9 L538.24 197.92 L539.43 197.93 L540.62 197.95 L541.81 197.96 L543 197.97 L544.19 197.99 L545.38 198 L546.57 198.01 L547.76 198.01 L548.94 198.02 L550.13 198.03 L551.32 198.04 L552.51 198.04 L553.7 198.05 L554.89 198.05 L556.08 198.06 L557.27 198.06 L558.46 198.07 L559.65 198.07 L560.84 198.07 L562.03 198.08 L563.22 198.08 L564.4 198.08 L565.59 198.08 L566.78 198.08 L567.97 198.09 L569.16 198.09 L570.35 198.09 L571.54 198.09 L572.73 198.09 L573.92 198.09 L575.11 198.09 L576.3 198.09 L577.49 198.09 L578.67 198.09 L579.86 198.1 L581.05 198.1 L582.24 198.1 L583.43 198.1 L584.62 198.1 L585.81 198.1 L587 198.1 L588.19 198.1 L589.38 198.1 L590.57 198.1 L591.76 198.1 L592.95 198.1 L594.13 198.1 L595.32 198.1 L596.51 198.1 L597.7 198.1 L598.89 198.1 L600.08 198.1 L601.27 198.1 L602.46 198.1 L603.65 198.1 L604.84 198.1 L606.03 198.1 L607.22 198.1 L608.4 198.1 L609.59 198.1 L610.78 198.1 L611.97 198.1 L613.16 198.1 L614.35 198.1 L615.54 198.1 L616.73 198.1 L617.92 198.1 L619.11 198.1 L620.3 198.1 L621.49 198.1 L622.68 198.1 L623.86 198.1 L625.05 198.1 L626.24 198.1 L627.43 198.1 L628.62 198.1 L629.81 198.1 L631 198.1 L632.19 198.1 L633.38 198.1 L634.57 198.1 L635.76 198.1 L636.95 198.1 L638.13 198.1 L639.32 198.1 L640.51 198.1 L641.7 198.1 L642.89 198.1 L644.08 198.1 L645.27 198.1 L646.46 198.1 L647.65 198.1 L648.84 198.1 L650.03 198.1 L651.22 198.1 L652.41 198.1 L653.59 198.1 L654.78 198.1 L655.97 198.1 L657.16 198.1 L658.35 198.1 L659.54 198.1 L660.73 198.1 L661.92 198.1 L663.11 198.1 L664.3 198.1 L665.49 198.1 L666.68 198.1 L667.86 198.1 L669.05 198.1 L670.24 198.1 L671.43 198.1 L672.62 198.1 L673.81 198.1 L675 198.1 L675 198.1 L377.7 198.1 Z" fill="#5a40c8" fill-opacity="0.28"/>
<path d="M377.7 129.54 L378.89 130 L380.08 130.47 L381.27 130.92 L382.46 131.38 L383.65 131.83 L384.84 132.28 L386.02 132.73 L387.21 133.17 L388.4 133.61 L389.59 134.05 L390.78 134.48 L391.97 134.91 L393.16 135.34 L394.35 135.76 L395.54 136.19 L396.73 136.6 L397.92 137.02 L399.11 137.44 L400.29 137.85 L401.48 138.25 L402.67 138.66 L403.86 139.06 L405.05 139.46 L406.24 139.86 L407.43 140.25 L408.62 140.65 L409.81 141.03 L411 141.42 L412.19 141.81 L413.38 142.19 L414.57 142.57 L415.75 142.94 L416.94 143.32 L418.13 143.69 L419.32 144.05 L420.51 144.42 L421.7 144.78 L422.89 145.15 L424.08 145.5 L425.27 145.86 L426.46 146.21 L427.65 146.57 L428.84 146.92 L430.02 147.26 L431.21 147.61 L432.4 147.95 L433.59 148.29 L434.78 148.63 L435.97 148.96 L437.16 149.29 L438.35 149.62 L439.54 149.95 L440.73 150.28 L441.92 150.6 L443.11 150.92 L444.3 151.24 L445.48 151.56 L446.67 151.88 L447.86 152.19 L449.05 152.5 L450.24 152.81 L451.43 153.12 L452.62 153.42 L453.81 153.72 L455 154.02 L456.19 154.32 L457.38 154.62 L458.57 154.91 L459.75 155.21 L460.94 155.5 L462.13 155.79 L463.32 156.07 L464.51 156.36 L465.7 156.64 L466.89 156.92 L468.08 157.2 L469.27 157.48 L470.46 157.75 L471.65 158.02 L472.84 158.3 L474.03 158.57 L475.21 158.83 L476.4 159.1 L477.59 159.36 L478.78 159.63 L479.97 159.89 L481.16 160.15 L482.35 160.4 L483.54 160.66 L484.73 160.91 L485.92 161.16 L487.11 161.41 L488.3 161.66 L489.48 161.91 L490.67 162.15 L491.86 162.4 L493.05 162.64 L494.24 162.88 L495.43 163.12 L496.62 163.36 L497.81 163.59 L499 163.82 L500.19 164.06 L501.38 164.29 L502.57 164.52 L503.76 164.74 L504.94 164.97 L506.13 165.19 L507.32 165.42 L508.51 165.64 L509.7 165.86 L510.89 166.08 L512.08 166.29 L513.27 166.51 L514.46 166.72 L515.65 166.94 L516.84 167.15 L518.03 167.36 L519.21 167.56 L520.4 167.77 L521.59 167.98 L522.78 168.18 L523.97 168.38 L525.16 168.58 L526.35 168.78 L527.54 168.98 L528.73 169.18 L529.92 169.38 L531.11 169.57 L532.3 169.76 L533.49 169.96 L534.67 170.15 L535.86 170.34 L537.05 170.52 L538.24 170.71 L539.43 170.9 L540.62 171.08 L541.81 171.26 L543 171.45 L544.19 171.63 L545.38 171.81 L546.57 171.98 L547.76 172.16 L548.94 172.34 L550.13 172.51 L551.32 172.68 L552.51 172.86 L553.7 173.03 L554.89 173.2 L556.08 173.37 L557.27 173.53 L558.46 173.7 L559.65 173.86 L560.84 174.03 L562.03 174.19 L563.22 174.35 L564.4 174.51 L565.59 174.67 L566.78 174.83 L567.97 174.99 L569.16 175.15 L570.35 175.3 L571.54 175.46 L572.73 175.61 L573.92 175.76 L575.11 175.91 L576.3 176.06 L577.49 176.21 L578.67 176.36 L579.86 176.51 L581.05 176.66 L582.24 176.8 L583.43 176.95 L584.62 177.09 L585.81 177.23 L587 177.37 L588.19 177.51 L589.38 177.65 L590.57 177.79 L591.76 177.93 L592.95 178.06 L594.13 178.2 L595.32 178.34 L596.51 178.47 L597.7 178.6 L598.89 178.73 L600.08 178.87 L601.27 179 L602.46 179.12 L603.65 179.25 L604.84 179.38 L606.03 179.51 L607.22 179.63 L608.4 179.76 L609.59 179.88 L610.78 180.01 L611.97 180.13 L613.16 180.25 L614.35 180.37 L615.54 180.49 L616.73 180.61 L617.92 180.73 L619.11 180.85 L620.3 180.96 L621.49 181.08 L622.68 181.2 L623.86 181.31 L625.05 181.42 L626.24 181.54 L627.43 181.65 L628.62 181.76 L629.81 181.87 L631 181.98 L632.19 182.09 L633.38 182.2 L634.57 182.31 L635.76 182.41 L636.95 182.52 L638.13 182.63 L639.32 182.73 L640.51 182.83 L641.7 182.94 L642.89 183.04 L644.08 183.14 L645.27 183.24 L646.46 183.34 L647.65 183.44 L648.84 183.54 L650.03 183.64 L651.22 183.74 L652.41 183.84 L653.59 183.93 L654.78 184.03 L655.97 184.12 L657.16 184.22 L658.35 184.31 L659.54 184.41 L660.73 184.5 L661.92 184.59 L663.11 184.68 L664.3 184.77 L665.49 184.86 L666.68 184.95 L667.86 185.04 L669.05 185.13 L670.24 185.22 L671.43 185.31 L672.62 185.39 L673.81 185.48 L675 185.56" fill="none" stroke="#ea9a3c" stroke-width="1.3"/>
<path d="M377.7 128.62 L378.89 128.27 L380.08 127.98 L381.27 127.73 L382.46 127.54 L383.65 127.39 L384.84 127.3 L386.02 127.26 L387.21 127.27 L388.4 127.34 L389.59 127.45 L390.78 127.62 L391.97 127.83 L393.16 128.1 L394.35 128.42 L395.54 128.78 L396.73 129.2 L397.92 129.66 L399.11 130.17 L400.29 130.72 L401.48 131.32 L402.67 131.96 L403.86 132.64 L405.05 133.37 L406.24 134.13 L407.43 134.93 L408.62 135.76 L409.81 136.63 L411 137.53 L412.19 138.46 L413.38 139.42 L414.57 140.4 L415.75 141.41 L416.94 142.45 L418.13 143.5 L419.32 144.57 L420.51 145.67 L421.7 146.77 L422.89 147.89 L424.08 149.02 L425.27 150.16 L426.46 151.31 L427.65 152.46 L428.84 153.62 L430.02 154.78 L431.21 155.94 L432.4 157.1 L433.59 158.26 L434.78 159.41 L435.97 160.55 L437.16 161.69 L438.35 162.82 L439.54 163.94 L440.73 165.05 L441.92 166.15 L443.11 167.23 L444.3 168.3 L445.48 169.35 L446.67 170.38 L447.86 171.4 L449.05 172.4 L450.24 173.37 L451.43 174.33 L452.62 175.27 L453.81 176.19 L455 177.08 L456.19 177.96 L457.38 178.81 L458.57 179.64 L459.75 180.45 L460.94 181.23 L462.13 181.99 L463.32 182.73 L464.51 183.44 L465.7 184.13 L466.89 184.8 L468.08 185.45 L469.27 186.07 L470.46 186.67 L471.65 187.25 L472.84 187.81 L474.03 188.34 L475.21 188.86 L476.4 189.35 L477.59 189.82 L478.78 190.28 L479.97 190.71 L481.16 191.12 L482.35 191.52 L483.54 191.9 L484.73 192.26 L485.92 192.6 L487.11 192.93 L488.3 193.24 L489.48 193.54 L490.67 193.82 L491.86 194.09 L493.05 194.34 L494.24 194.58 L495.43 194.81 L496.62 195.02 L497.81 195.22 L499 195.41 L500.19 195.59 L501.38 195.76 L502.57 195.92 L503.76 196.07 L504.94 196.22 L506.13 196.35 L507.32 196.47 L508.51 196.59 L509.7 196.7 L510.89 196.8 L512.08 196.9 L513.27 196.99 L514.46 197.07 L515.65 197.15 L516.84 197.22 L518.03 197.29 L519.21 197.35 L520.4 197.41 L521.59 197.47 L522.78 197.52 L523.97 197.56 L525.16 197.61 L526.35 197.65 L527.54 197.69 L528.73 197.72 L529.92 197.75" fill="none" stroke="#4a3fe0" stroke-width="1.3"/>
<g fill="#e8121a"><circle cx="377.7" cy="49" r="1.45"/><circle cx="380.2" cy="51.07" r="1.45"/><circle cx="382.69" cy="53.44" r="1.45"/><circle cx="385.19" cy="56.36" r="1.45"/><circle cx="387.69" cy="61.3" r="1.45"/><circle cx="390.19" cy="65.53" r="1.45"/><circle cx="392.68" cy="70.06" r="1.45"/><circle cx="395.18" cy="74.53" r="1.45"/><circle cx="397.68" cy="77.59" r="1.45"/><circle cx="400.18" cy="79.61" r="1.45"/><circle cx="402.67" cy="80.97" r="1.45"/><circle cx="405.17" cy="82.03" r="1.45"/><circle cx="407.67" cy="83.03" r="1.45"/><circle cx="410.17" cy="84.12" r="1.45"/><circle cx="412.66" cy="85.42" r="1.45"/><circle cx="415.16" cy="86.96" r="1.45"/><circle cx="417.66" cy="88.76" r="1.45"/><circle cx="420.15" cy="90.81" r="1.45"/><circle cx="422.65" cy="93.09" r="1.45"/><circle cx="425.15" cy="95.59" r="1.45"/><circle cx="427.65" cy="98.27" r="1.45"/><circle cx="430.14" cy="101.11" r="1.45"/><circle cx="432.64" cy="104.09" r="1.45"/><circle cx="435.14" cy="107.17" r="1.45"/><circle cx="437.64" cy="110.33" r="1.45"/><circle cx="440.13" cy="113.53" r="1.45"/><circle cx="442.63" cy="116.76" r="1.45"/><circle cx="445.13" cy="119.99" r="1.45"/><circle cx="447.62" cy="123.19" r="1.45"/><circle cx="450.12" cy="126.34" r="1.45"/><circle cx="452.62" cy="129.43" r="1.45"/><circle cx="455.12" cy="132.43" r="1.45"/><circle cx="457.61" cy="135.33" r="1.45"/><circle cx="460.11" cy="138.12" r="1.45"/><circle cx="462.61" cy="140.79" r="1.45"/><circle cx="465.11" cy="143.33" r="1.45"/><circle cx="467.6" cy="145.73" r="1.45"/><circle cx="470.1" cy="147.99" r="1.45"/><circle cx="472.6" cy="150.12" r="1.45"/><circle cx="475.1" cy="152.09" r="1.45"/><circle cx="477.59" cy="153.93" r="1.45"/><circle cx="480.09" cy="155.64" r="1.45"/><circle cx="482.59" cy="157.2" r="1.45"/><circle cx="485.08" cy="158.64" r="1.45"/><circle cx="487.58" cy="159.96" r="1.45"/><circle cx="490.08" cy="161.17" r="1.45"/><circle cx="492.58" cy="162.26" r="1.45"/><circle cx="495.07" cy="163.25" r="1.45"/><circle cx="497.57" cy="164.15" r="1.45"/><circle cx="500.07" cy="164.97" r="1.45"/><circle cx="502.57" cy="165.71" r="1.45"/><circle cx="505.06" cy="166.37" r="1.45"/><circle cx="507.56" cy="166.97" r="1.45"/><circle cx="510.06" cy="167.52" r="1.45"/><circle cx="512.56" cy="168.01" r="1.45"/><circle cx="515.05" cy="168.46" r="1.45"/><circle cx="517.55" cy="168.87" r="1.45"/><circle cx="520.05" cy="169.25" r="1.45"/><circle cx="522.54" cy="169.6" r="1.45"/><circle cx="525.04" cy="169.92" r="1.45"/><circle cx="527.54" cy="170.23" r="1.45"/><circle cx="530.04" cy="170.51" r="1.45"/><circle cx="532.53" cy="170.78" r="1.45"/><circle cx="535.03" cy="171.04" r="1.45"/><circle cx="537.53" cy="171.29" r="1.45"/><circle cx="540.03" cy="171.53" r="1.45"/><circle cx="542.52" cy="171.76" r="1.45"/><circle cx="545.02" cy="172" r="1.45"/><circle cx="547.52" cy="172.22" r="1.45"/><circle cx="550.02" cy="172.45" r="1.45"/><circle cx="552.51" cy="172.67" r="1.45"/><circle cx="555.01" cy="172.9" r="1.45"/><circle cx="557.51" cy="173.12" r="1.45"/><circle cx="560" cy="173.35" r="1.45"/><circle cx="562.5" cy="173.58" r="1.45"/><circle cx="565" cy="173.81" r="1.45"/><circle cx="567.5" cy="174.04" r="1.45"/><circle cx="569.99" cy="174.27" r="1.45"/><circle cx="572.49" cy="174.5" r="1.45"/><circle cx="574.99" cy="174.74" r="1.45"/><circle cx="577.49" cy="174.98" r="1.45"/><circle cx="579.98" cy="175.22" r="1.45"/><circle cx="582.48" cy="175.46" r="1.45"/><circle cx="584.98" cy="175.71" r="1.45"/><circle cx="587.47" cy="175.95" r="1.45"/><circle cx="589.97" cy="176.2" r="1.45"/><circle cx="592.47" cy="176.45" r="1.45"/><circle cx="594.97" cy="176.7" r="1.45"/><circle cx="597.46" cy="176.96" r="1.45"/><circle cx="599.96" cy="177.21" r="1.45"/><circle cx="602.46" cy="177.47" r="1.45"/><circle cx="604.96" cy="177.73" r="1.45"/><circle cx="607.45" cy="177.99" r="1.45"/><circle cx="609.95" cy="178.24" r="1.45"/><circle cx="612.45" cy="178.5" r="1.45"/><circle cx="614.95" cy="178.77" r="1.45"/><circle cx="617.44" cy="179.03" r="1.45"/><circle cx="619.94" cy="179.29" r="1.45"/><circle cx="622.44" cy="179.55" r="1.45"/><circle cx="624.93" cy="179.82" r="1.45"/><circle cx="627.43" cy="180.08" r="1.45"/><circle cx="629.93" cy="180.34" r="1.45"/><circle cx="632.43" cy="180.6" r="1.45"/><circle cx="634.92" cy="180.87" r="1.45"/><circle cx="637.42" cy="181.13" r="1.45"/><circle cx="639.92" cy="181.39" r="1.45"/><circle cx="642.42" cy="181.65" r="1.45"/><circle cx="644.91" cy="181.91" r="1.45"/><circle cx="647.41" cy="182.17" r="1.45"/><circle cx="649.91" cy="182.43" r="1.45"/><circle cx="652.41" cy="182.69" r="1.45"/><circle cx="654.9" cy="182.95" r="1.45"/><circle cx="657.4" cy="183.21" r="1.45"/><circle cx="659.9" cy="183.46" r="1.45"/><circle cx="662.39" cy="183.72" r="1.45"/><circle cx="664.89" cy="183.97" r="1.45"/><circle cx="667.39" cy="184.22" r="1.45"/><circle cx="669.89" cy="184.47" r="1.45"/><circle cx="672.38" cy="184.72" r="1.45"/><circle cx="674.88" cy="184.96" r="1.45"/></g>
<path d="M377.7 60.06 L378.89 60.18 L380.08 60.34 L381.27 60.56 L382.46 60.82 L383.65 61.13 L384.84 61.48 L386.02 61.89 L387.21 62.34 L388.4 62.85 L389.59 63.4 L390.78 64 L391.97 64.64 L393.16 65.34 L394.35 66.08 L395.54 66.87 L396.73 67.7 L397.92 68.58 L399.11 69.5 L400.29 70.47 L401.48 71.47 L402.67 72.52 L403.86 73.61 L405.05 74.73 L406.24 75.89 L407.43 77.08 L408.62 78.31 L409.81 79.56 L411 80.85 L412.19 82.16 L413.38 83.5 L414.57 84.87 L415.75 86.26 L416.94 87.66 L418.13 89.09 L419.32 90.53 L420.51 91.99 L421.7 93.46 L422.89 94.94 L424.08 96.43 L425.27 97.92 L426.46 99.42 L427.65 100.93 L428.84 102.43 L430.02 103.94 L431.21 105.45 L432.4 106.95 L433.59 108.44 L434.78 109.93 L435.97 111.41 L437.16 112.89 L438.35 114.35 L439.54 115.79 L440.73 117.23 L441.92 118.65 L443.11 120.05 L444.3 121.44 L445.48 122.81 L446.67 124.16 L447.86 125.49 L449.05 126.8 L450.24 128.08 L451.43 129.35 L452.62 130.59 L453.81 131.81 L455 133.01 L456.19 134.18 L457.38 135.33 L458.57 136.45 L459.75 137.55 L460.94 138.63 L462.13 139.67 L463.32 140.7 L464.51 141.7 L465.7 142.67 L466.89 143.62 L468.08 144.55 L469.27 145.45 L470.46 146.32 L471.65 147.17 L472.84 148 L474.03 148.81 L475.21 149.59 L476.4 150.35 L477.59 151.09 L478.78 151.8 L479.97 152.5 L481.16 153.17 L482.35 153.82 L483.54 154.46 L484.73 155.07 L485.92 155.67 L487.11 156.25 L488.3 156.81 L489.48 157.35 L490.67 157.87 L491.86 158.38 L493.05 158.88 L494.24 159.36 L495.43 159.82 L496.62 160.28 L497.81 160.71 L499 161.14 L500.19 161.55 L501.38 161.95 L502.57 162.34 L503.76 162.72 L504.94 163.09 L506.13 163.44 L507.32 163.79 L508.51 164.13 L509.7 164.46 L510.89 164.78 L512.08 165.09 L513.27 165.4 L514.46 165.69 L515.65 165.98 L516.84 166.27 L518.03 166.55 L519.21 166.82 L520.4 167.08 L521.59 167.34 L522.78 167.6 L523.97 167.85 L525.16 168.09 L526.35 168.33 L527.54 168.57 L528.73 168.8 L529.92 169.03 L531.11 169.25 L532.3 169.47 L533.49 169.69 L534.67 169.9 L535.86 170.11 L537.05 170.32 L538.24 170.53 L539.43 170.73 L540.62 170.93 L541.81 171.12 L543 171.32 L544.19 171.51 L545.38 171.7 L546.57 171.89 L547.76 172.07 L548.94 172.26 L550.13 172.44 L551.32 172.62 L552.51 172.8 L553.7 172.98 L554.89 173.15 L556.08 173.32 L557.27 173.5 L558.46 173.67 L559.65 173.83 L560.84 174 L562.03 174.17 L563.22 174.33 L564.4 174.49 L565.59 174.66 L566.78 174.82 L567.97 174.98 L569.16 175.13 L570.35 175.29 L571.54 175.45 L572.73 175.6 L573.92 175.75 L575.11 175.91 L576.3 176.06 L577.49 176.21 L578.67 176.36 L579.86 176.5 L581.05 176.65 L582.24 176.8 L583.43 176.94 L584.62 177.09 L585.81 177.23 L587 177.37 L588.19 177.51 L589.38 177.65 L590.57 177.79 L591.76 177.93 L592.95 178.06 L594.13 178.2 L595.32 178.33 L596.51 178.47 L597.7 178.6 L598.89 178.73 L600.08 178.86 L601.27 179 L602.46 179.12 L603.65 179.25 L604.84 179.38 L606.03 179.51 L607.22 179.63 L608.4 179.76 L609.59 179.88 L610.78 180.01 L611.97 180.13 L613.16 180.25 L614.35 180.37 L615.54 180.49 L616.73 180.61 L617.92 180.73 L619.11 180.85 L620.3 180.96 L621.49 181.08 L622.68 181.2 L623.86 181.31 L625.05 181.42 L626.24 181.54 L627.43 181.65 L628.62 181.76 L629.81 181.87 L631 181.98 L632.19 182.09 L633.38 182.2 L634.57 182.31 L635.76 182.41 L636.95 182.52 L638.13 182.63 L639.32 182.73 L640.51 182.83 L641.7 182.94 L642.89 183.04 L644.08 183.14 L645.27 183.24 L646.46 183.34 L647.65 183.44 L648.84 183.54 L650.03 183.64 L651.22 183.74 L652.41 183.84 L653.59 183.93 L654.78 184.03 L655.97 184.12 L657.16 184.22 L658.35 184.31 L659.54 184.41 L660.73 184.5 L661.92 184.59 L663.11 184.68 L664.3 184.77 L665.49 184.86 L666.68 184.95 L667.86 185.04 L669.05 185.13 L670.24 185.22 L671.43 185.31 L672.62 185.39 L673.81 185.48 L675 185.56" fill="none" stroke="#222" stroke-width="1.1"/>
<path d="M377.7 14.9 V198.1 H675" fill="none" stroke="#4d4d55" stroke-width="1.3"/>
<path d="M437.16 198.1 v-4.8 M496.62 198.1 v-4.8 M556.08 198.1 v-4.8 M615.54 198.1 v-4.8 M675 198.1 v-4.8 " fill="none" stroke="#4d4d55" stroke-width="0.9"/>
<text x="437.26" y="208.1" class="t" text-anchor="middle">1°</text>
<text x="496.72" y="208.1" class="t" text-anchor="middle">2°</text>
<text x="556.18" y="208.1" class="t" text-anchor="middle">3°</text>
<text x="615.64" y="208.1" class="t" text-anchor="middle">4°</text>
<text x="675.1" y="208.1" class="t" text-anchor="middle">5°</text>
<text x="376.1" y="200.5" class="t" text-anchor="end">0.0</text>
<text x="376.1" y="154.9" class="t" text-anchor="end">0.2</text>
<text x="376.1" y="109.3" class="t" text-anchor="end">0.4</text>
<text x="376.1" y="63.7" class="t" text-anchor="end">0.6</text>
<text x="376.1" y="18.1" class="t" text-anchor="end">0.8</text>
<text x="377.8" y="9.4" class="m" text-anchor="middle">MPOD</text>
<text x="679.8" y="200.9" class="e">eccentricity</text>
<text x="674" y="27.5" class="L" text-anchor="middle">b</text>
<path d="M16.7 374.15 L17.89 372.91 L19.08 371.71 L20.27 370.55 L21.46 369.45 L22.66 368.4 L23.85 367.41 L25.04 366.48 L26.23 365.6 L27.42 364.79 L28.61 364.05 L29.8 363.37 L30.99 362.76 L32.19 362.22 L33.38 361.75 L34.57 361.36 L35.76 361.03 L36.95 360.79 L38.14 360.61 L39.33 360.52 L40.52 360.5 L41.72 360.55 L42.91 360.68 L44.1 360.89 L45.29 361.17 L46.48 361.52 L47.67 361.95 L48.86 362.45 L50.05 363.03 L51.24 363.67 L52.44 364.37 L53.63 365.15 L54.82 365.99 L56.01 366.89 L57.2 367.85 L58.39 368.87 L59.58 369.94 L60.77 371.07 L61.97 372.24 L63.16 373.46 L64.35 374.73 L65.54 376.04 L66.73 377.38 L67.92 378.76 L69.11 380.17 L70.3 381.62 L71.5 383.08 L72.69 384.58 L73.88 386.09 L75.07 387.62 L76.26 389.16 L77.45 390.71 L78.64 392.27 L79.83 393.84 L81.02 395.4 L82.22 396.97 L83.41 398.54 L84.6 400.1 L85.79 401.65 L86.98 403.19 L88.17 404.72 L89.36 406.23 L90.55 407.72 L91.75 409.2 L92.94 410.66 L94.13 412.09 L95.32 413.5 L96.51 414.89 L97.7 416.25 L98.89 417.58 L100.08 418.88 L101.28 420.15 L102.47 421.39 L103.66 422.6 L104.85 423.77 L106.04 424.92 L107.23 426.03 L108.42 427.1 L109.61 428.15 L110.8 429.15 L112 430.13 L113.19 431.07 L114.38 431.98 L115.57 432.85 L116.76 433.69 L117.95 434.5 L119.14 435.28 L120.33 436.02 L121.53 436.74 L122.72 437.42 L123.91 438.07 L125.1 438.69 L126.29 439.29 L127.48 439.85 L128.67 440.39 L129.86 440.9 L131.06 441.39 L132.25 441.85 L133.44 442.29 L134.63 442.7 L135.82 443.09 L137.01 443.46 L138.2 443.81 L139.39 444.14 L140.58 444.45 L141.78 444.74 L142.97 445.02 L144.16 445.28 L145.35 445.52 L146.54 445.74 L147.73 445.96 L148.92 446.16 L150.11 446.34 L151.31 446.51 L152.5 446.68 L153.69 446.83 L154.88 446.97 L156.07 447.1 L157.26 447.22 L158.45 447.33 L159.64 447.44 L160.84 447.53 L162.03 447.62 L163.22 447.71 L164.41 447.78 L165.6 447.85 L166.79 447.92 L167.98 447.98 L169.17 448.03 L170.36 448.08 L171.56 448.13 L172.75 448.17 L173.94 448.21 L175.13 448.25 L176.32 448.28 L177.51 448.31 L178.7 448.34 L179.89 448.36 L181.09 448.39 L182.28 448.41 L183.47 448.43 L184.66 448.44 L185.85 448.46 L187.04 448.47 L188.23 448.49 L189.42 448.5 L190.62 448.51 L191.81 448.52 L193 448.53 L194.19 448.53 L195.38 448.54 L196.57 448.55 L197.76 448.55 L198.95 448.56 L200.14 448.56 L201.34 448.57 L202.53 448.57 L203.72 448.57 L204.91 448.58 L206.1 448.58 L207.29 448.58 L208.48 448.58 L209.67 448.59 L210.87 448.59 L212.06 448.59 L213.25 448.59 L214.44 448.59 L215.63 448.59 L216.82 448.59 L218.01 448.59 L219.2 448.59 L220.4 448.6 L221.59 448.6 L222.78 448.6 L223.97 448.6 L225.16 448.6 L226.35 448.6 L227.54 448.6 L228.73 448.6 L229.92 448.6 L231.12 448.6 L232.31 448.6 L233.5 448.6 L234.69 448.6 L235.88 448.6 L237.07 448.6 L238.26 448.6 L239.45 448.6 L240.65 448.6 L241.84 448.6 L243.03 448.6 L244.22 448.6 L245.41 448.6 L246.6 448.6 L247.79 448.6 L248.98 448.6 L250.18 448.6 L251.37 448.6 L252.56 448.6 L253.75 448.6 L254.94 448.6 L256.13 448.6 L257.32 448.6 L258.51 448.6 L259.7 448.6 L260.9 448.6 L262.09 448.6 L263.28 448.6 L264.47 448.6 L265.66 448.6 L266.85 448.6 L268.04 448.6 L269.23 448.6 L270.43 448.6 L271.62 448.6 L272.81 448.6 L274 448.6 L275.19 448.6 L276.38 448.6 L277.57 448.6 L278.76 448.6 L279.96 448.6 L281.15 448.6 L282.34 448.6 L283.53 448.6 L284.72 448.6 L285.91 448.6 L287.1 448.6 L288.29 448.6 L289.48 448.6 L290.68 448.6 L291.87 448.6 L293.06 448.6 L294.25 448.6 L295.44 448.6 L296.63 448.6 L297.82 448.6 L299.01 448.6 L300.21 448.6 L301.4 448.6 L302.59 448.6 L303.78 448.6 L304.97 448.6 L306.16 448.6 L307.35 448.6 L308.54 448.6 L309.74 448.6 L310.93 448.6 L312.12 448.6 L313.31 448.6 L314.5 448.6 L314.5 448.6 L16.7 448.6 Z" fill="#f79b3e" fill-opacity="0.3"/>
<path d="M16.7 422.01 L17.89 421.92 L19.08 421.83 L20.27 421.75 L21.46 421.66 L22.66 421.58 L23.85 421.5 L25.04 421.42 L26.23 421.34 L27.42 421.26 L28.61 421.18 L29.8 421.1 L30.99 421.03 L32.19 420.95 L33.38 420.88 L34.57 420.81 L35.76 420.74 L36.95 420.67 L38.14 420.6 L39.33 420.53 L40.52 420.47 L41.72 420.4 L42.91 420.34 L44.1 420.27 L45.29 420.21 L46.48 420.15 L47.67 420.09 L48.86 420.04 L50.05 419.98 L51.24 419.93 L52.44 419.87 L53.63 419.82 L54.82 419.77 L56.01 419.72 L57.2 419.67 L58.39 419.62 L59.58 419.58 L60.77 419.53 L61.97 419.49 L63.16 419.45 L64.35 419.41 L65.54 419.37 L66.73 419.33 L67.92 419.3 L69.11 419.26 L70.3 419.23 L71.5 419.2 L72.69 419.17 L73.88 419.14 L75.07 419.11 L76.26 419.08 L77.45 419.06 L78.64 419.04 L79.83 419.01 L81.02 418.99 L82.22 418.97 L83.41 418.96 L84.6 418.94 L85.79 418.93 L86.98 418.91 L88.17 418.9 L89.36 418.89 L90.55 418.88 L91.75 418.87 L92.94 418.87 L94.13 418.86 L95.32 418.86 L96.51 418.86 L97.7 418.86 L98.89 418.86 L100.08 418.86 L101.28 418.86 L102.47 418.87 L103.66 418.88 L104.85 418.89 L106.04 418.9 L107.23 418.91 L108.42 418.92 L109.61 418.93 L110.8 418.95 L112 418.97 L113.19 418.98 L114.38 419 L115.57 419.03 L116.76 419.05 L117.95 419.07 L119.14 419.1 L120.33 419.13 L121.53 419.15 L122.72 419.18 L123.91 419.22 L125.1 419.25 L126.29 419.28 L127.48 419.32 L128.67 419.35 L129.86 419.39 L131.06 419.43 L132.25 419.47 L133.44 419.52 L134.63 419.56 L135.82 419.6 L137.01 419.65 L138.2 419.7 L139.39 419.75 L140.58 419.8 L141.78 419.85 L142.97 419.9 L144.16 419.96 L145.35 420.01 L146.54 420.07 L147.73 420.13 L148.92 420.19 L150.11 420.25 L151.31 420.31 L152.5 420.37 L153.69 420.44 L154.88 420.5 L156.07 420.57 L157.26 420.64 L158.45 420.71 L159.64 420.78 L160.84 420.85 L162.03 420.92 L163.22 421 L164.41 421.07 L165.6 421.15 L166.79 421.23 L167.98 421.3 L169.17 421.38 L170.36 421.46 L171.56 421.55 L172.75 421.63 L173.94 421.71 L175.13 421.8 L176.32 421.88 L177.51 421.97 L178.7 422.06 L179.89 422.15 L181.09 422.24 L182.28 422.33 L183.47 422.42 L184.66 422.51 L185.85 422.61 L187.04 422.7 L188.23 422.8 L189.42 422.89 L190.62 422.99 L191.81 423.09 L193 423.19 L194.19 423.29 L195.38 423.39 L196.57 423.49 L197.76 423.59 L198.95 423.7 L200.14 423.8 L201.34 423.91 L202.53 424.01 L203.72 424.12 L204.91 424.23 L206.1 424.33 L207.29 424.44 L208.48 424.55 L209.67 424.66 L210.87 424.77 L212.06 424.88 L213.25 425 L214.44 425.11 L215.63 425.22 L216.82 425.33 L218.01 425.45 L219.2 425.56 L220.4 425.68 L221.59 425.79 L222.78 425.91 L223.97 426.03 L225.16 426.15 L226.35 426.26 L227.54 426.38 L228.73 426.5 L229.92 426.62 L231.12 426.74 L232.31 426.86 L233.5 426.98 L234.69 427.1 L235.88 427.22 L237.07 427.34 L238.26 427.47 L239.45 427.59 L240.65 427.71 L241.84 427.83 L243.03 427.96 L244.22 428.08 L245.41 428.2 L246.6 428.33 L247.79 428.45 L248.98 428.58 L250.18 428.7 L251.37 428.83 L252.56 428.95 L253.75 429.08 L254.94 429.2 L256.13 429.33 L257.32 429.45 L258.51 429.58 L259.7 429.7 L260.9 429.83 L262.09 429.96 L263.28 430.08 L264.47 430.21 L265.66 430.33 L266.85 430.46 L268.04 430.59 L269.23 430.71 L270.43 430.84 L271.62 430.96 L272.81 431.09 L274 431.22 L275.19 431.34 L276.38 431.47 L277.57 431.59 L278.76 431.72 L279.96 431.84 L281.15 431.97 L282.34 432.1 L283.53 432.22 L284.72 432.35 L285.91 432.47 L287.1 432.59 L288.29 432.72 L289.48 432.84 L290.68 432.97 L291.87 433.09 L293.06 433.21 L294.25 433.34 L295.44 433.46 L296.63 433.58 L297.82 433.71 L299.01 433.83 L300.21 433.95 L301.4 434.07 L302.59 434.19 L303.78 434.31 L304.97 434.44 L306.16 434.56 L307.35 434.68 L308.54 434.8 L309.74 434.92 L310.93 435.03 L312.12 435.15 L313.31 435.27 L314.5 435.39 L314.5 448.6 L16.7 448.6 Z" fill="#30ff30" fill-opacity="0.25"/>
<path d="M16.7 401.44 L17.89 401.79 L19.08 402.85 L20.27 404.56 L21.46 406.84 L22.66 409.6 L23.85 412.73 L25.04 416.1 L26.23 419.61 L27.42 423.12 L28.61 426.55 L29.8 429.8 L30.99 432.82 L32.19 435.55 L33.38 437.97 L34.57 440.07 L35.76 441.86 L36.95 443.36 L38.14 444.58 L39.33 445.57 L40.52 446.35 L41.72 446.95 L42.91 447.41 L44.1 447.75 L45.29 448.01 L46.48 448.19 L47.67 448.32 L48.86 448.42 L50.05 448.48 L51.24 448.52 L52.44 448.55 L53.63 448.57 L54.82 448.58 L56.01 448.59 L57.2 448.59 L58.39 448.6 L59.58 448.6 L60.77 448.6 L61.97 448.6 L63.16 448.6 L64.35 448.6 L65.54 448.6 L66.73 448.6 L67.92 448.6 L69.11 448.6 L70.3 448.6 L71.5 448.6 L72.69 448.6 L73.88 448.6 L75.07 448.6 L76.26 448.6 L77.45 448.6 L78.64 448.6 L79.83 448.6 L81.02 448.6 L82.22 448.6 L83.41 448.6 L84.6 448.6 L85.79 448.6 L86.98 448.6 L88.17 448.6 L89.36 448.6 L90.55 448.6 L91.75 448.6 L92.94 448.6 L94.13 448.6 L95.32 448.6 L96.51 448.6 L97.7 448.6 L98.89 448.6 L100.08 448.6 L101.28 448.6 L102.47 448.6 L103.66 448.6 L104.85 448.6 L106.04 448.6 L107.23 448.6 L108.42 448.6 L109.61 448.6 L110.8 448.6 L112 448.6 L113.19 448.6 L114.38 448.6 L115.57 448.6 L116.76 448.6 L117.95 448.6 L119.14 448.6 L120.33 448.6 L121.53 448.6 L122.72 448.6 L123.91 448.6 L125.1 448.6 L126.29 448.6 L127.48 448.6 L128.67 448.6 L129.86 448.6 L131.06 448.6 L132.25 448.6 L133.44 448.6 L134.63 448.6 L135.82 448.6 L137.01 448.6 L138.2 448.6 L139.39 448.6 L140.58 448.6 L141.78 448.6 L142.97 448.6 L144.16 448.6 L145.35 448.6 L146.54 448.6 L147.73 448.6 L148.92 448.6 L150.11 448.6 L151.31 448.6 L152.5 448.6 L153.69 448.6 L154.88 448.6 L156.07 448.6 L157.26 448.6 L158.45 448.6 L159.64 448.6 L160.84 448.6 L162.03 448.6 L163.22 448.6 L164.41 448.6 L165.6 448.6 L166.79 448.6 L167.98 448.6 L169.17 448.6 L170.36 448.6 L171.56 448.6 L172.75 448.6 L173.94 448.6 L175.13 448.6 L176.32 448.6 L177.51 448.6 L178.7 448.6 L179.89 448.6 L181.09 448.6 L182.28 448.6 L183.47 448.6 L184.66 448.6 L185.85 448.6 L187.04 448.6 L188.23 448.6 L189.42 448.6 L190.62 448.6 L191.81 448.6 L193 448.6 L194.19 448.6 L195.38 448.6 L196.57 448.6 L197.76 448.6 L198.95 448.6 L200.14 448.6 L201.34 448.6 L202.53 448.6 L203.72 448.6 L204.91 448.6 L206.1 448.6 L207.29 448.6 L208.48 448.6 L209.67 448.6 L210.87 448.6 L212.06 448.6 L213.25 448.6 L214.44 448.6 L215.63 448.6 L216.82 448.6 L218.01 448.6 L219.2 448.6 L220.4 448.6 L221.59 448.6 L222.78 448.6 L223.97 448.6 L225.16 448.6 L226.35 448.6 L227.54 448.6 L228.73 448.6 L229.92 448.6 L231.12 448.6 L232.31 448.6 L233.5 448.6 L234.69 448.6 L235.88 448.6 L237.07 448.6 L238.26 448.6 L239.45 448.6 L240.65 448.6 L241.84 448.6 L243.03 448.6 L244.22 448.6 L245.41 448.6 L246.6 448.6 L247.79 448.6 L248.98 448.6 L250.18 448.6 L251.37 448.6 L252.56 448.6 L253.75 448.6 L254.94 448.6 L256.13 448.6 L257.32 448.6 L258.51 448.6 L259.7 448.6 L260.9 448.6 L262.09 448.6 L263.28 448.6 L264.47 448.6 L265.66 448.6 L266.85 448.6 L268.04 448.6 L269.23 448.6 L270.43 448.6 L271.62 448.6 L272.81 448.6 L274 448.6 L275.19 448.6 L276.38 448.6 L277.57 448.6 L278.76 448.6 L279.96 448.6 L281.15 448.6 L282.34 448.6 L283.53 448.6 L284.72 448.6 L285.91 448.6 L287.1 448.6 L288.29 448.6 L289.48 448.6 L290.68 448.6 L291.87 448.6 L293.06 448.6 L294.25 448.6 L295.44 448.6 L296.63 448.6 L297.82 448.6 L299.01 448.6 L300.21 448.6 L301.4 448.6 L302.59 448.6 L303.78 448.6 L304.97 448.6 L306.16 448.6 L307.35 448.6 L308.54 448.6 L309.74 448.6 L310.93 448.6 L312.12 448.6 L313.31 448.6 L314.5 448.6 L314.5 448.6 L16.7 448.6 Z" fill="#5a40c8" fill-opacity="0.28"/>
<path d="M16.7 374.15 L17.89 372.91 L19.08 371.71 L20.27 370.55 L21.46 369.45 L22.66 368.4 L23.85 367.41 L25.04 366.48 L26.23 365.6 L27.42 364.79 L28.61 364.05 L29.8 363.37 L30.99 362.76 L32.19 362.22 L33.38 361.75 L34.57 361.36 L35.76 361.03 L36.95 360.79 L38.14 360.61 L39.33 360.52 L40.52 360.5 L41.72 360.55 L42.91 360.68 L44.1 360.89 L45.29 361.17 L46.48 361.52 L47.67 361.95 L48.86 362.45 L50.05 363.03 L51.24 363.67 L52.44 364.37 L53.63 365.15 L54.82 365.99 L56.01 366.89 L57.2 367.85 L58.39 368.87 L59.58 369.94 L60.77 371.07 L61.97 372.24 L63.16 373.46 L64.35 374.73 L65.54 376.04 L66.73 377.38 L67.92 378.76 L69.11 380.17 L70.3 381.62 L71.5 383.08 L72.69 384.58 L73.88 386.09 L75.07 387.62 L76.26 389.16 L77.45 390.71 L78.64 392.27 L79.83 393.84 L81.02 395.4 L82.22 396.97 L83.41 398.54 L84.6 400.1 L85.79 401.65 L86.98 403.19 L88.17 404.72 L89.36 406.23 L90.55 407.72 L91.75 409.2 L92.94 410.66 L94.13 412.09 L95.32 413.5 L96.51 414.89 L97.7 416.25 L98.89 417.58 L100.08 418.88 L101.28 420.15 L102.47 421.39 L103.66 422.6 L104.85 423.77 L106.04 424.92 L107.23 426.03 L108.42 427.1 L109.61 428.15 L110.8 429.15 L112 430.13 L113.19 431.07 L114.38 431.98 L115.57 432.85 L116.76 433.69 L117.95 434.5 L119.14 435.28 L120.33 436.02 L121.53 436.74 L122.72 437.42 L123.91 438.07 L125.1 438.69 L126.29 439.29 L127.48 439.85 L128.67 440.39 L129.86 440.9 L131.06 441.39 L132.25 441.85 L133.44 442.29 L134.63 442.7 L135.82 443.09 L137.01 443.46 L138.2 443.81 L139.39 444.14 L140.58 444.45 L141.78 444.74 L142.97 445.02 L144.16 445.28 L145.35 445.52 L146.54 445.74 L147.73 445.96 L148.92 446.16 L150.11 446.34 L151.31 446.51 L152.5 446.68 L153.69 446.83 L154.88 446.97 L156.07 447.1 L157.26 447.22 L158.45 447.33 L159.64 447.44 L160.84 447.53 L162.03 447.62 L163.22 447.71 L164.41 447.78 L165.6 447.85 L166.79 447.92 L167.98 447.98 L169.17 448.03 L170.36 448.08 L171.56 448.13 L172.75 448.17 L173.94 448.21 L175.13 448.25" fill="none" stroke="#ea9a3c" stroke-width="1.3"/>
<path d="M16.7 422.01 L17.89 421.92 L19.08 421.83 L20.27 421.75 L21.46 421.66 L22.66 421.58 L23.85 421.5 L25.04 421.42 L26.23 421.34 L27.42 421.26 L28.61 421.18 L29.8 421.1 L30.99 421.03 L32.19 420.95 L33.38 420.88 L34.57 420.81 L35.76 420.74 L36.95 420.67 L38.14 420.6 L39.33 420.53 L40.52 420.47 L41.72 420.4 L42.91 420.34 L44.1 420.27 L45.29 420.21 L46.48 420.15 L47.67 420.09 L48.86 420.04 L50.05 419.98 L51.24 419.93 L52.44 419.87 L53.63 419.82 L54.82 419.77 L56.01 419.72 L57.2 419.67 L58.39 419.62 L59.58 419.58 L60.77 419.53 L61.97 419.49 L63.16 419.45 L64.35 419.41 L65.54 419.37 L66.73 419.33 L67.92 419.3 L69.11 419.26 L70.3 419.23 L71.5 419.2 L72.69 419.17 L73.88 419.14 L75.07 419.11 L76.26 419.08 L77.45 419.06 L78.64 419.04 L79.83 419.01 L81.02 418.99 L82.22 418.97 L83.41 418.96 L84.6 418.94 L85.79 418.93 L86.98 418.91 L88.17 418.9 L89.36 418.89 L90.55 418.88 L91.75 418.87 L92.94 418.87 L94.13 418.86 L95.32 418.86 L96.51 418.86 L97.7 418.86 L98.89 418.86 L100.08 418.86 L101.28 418.86 L102.47 418.87 L103.66 418.88 L104.85 418.89 L106.04 418.9 L107.23 418.91 L108.42 418.92 L109.61 418.93 L110.8 418.95 L112 418.97 L113.19 418.98 L114.38 419 L115.57 419.03 L116.76 419.05 L117.95 419.07 L119.14 419.1 L120.33 419.13 L121.53 419.15 L122.72 419.18 L123.91 419.22 L125.1 419.25 L126.29 419.28 L127.48 419.32 L128.67 419.35 L129.86 419.39 L131.06 419.43 L132.25 419.47 L133.44 419.52 L134.63 419.56 L135.82 419.6 L137.01 419.65 L138.2 419.7 L139.39 419.75 L140.58 419.8 L141.78 419.85 L142.97 419.9 L144.16 419.96 L145.35 420.01 L146.54 420.07 L147.73 420.13 L148.92 420.19 L150.11 420.25 L151.31 420.31 L152.5 420.37 L153.69 420.44 L154.88 420.5 L156.07 420.57 L157.26 420.64 L158.45 420.71 L159.64 420.78 L160.84 420.85 L162.03 420.92 L163.22 421 L164.41 421.07 L165.6 421.15 L166.79 421.23 L167.98 421.3 L169.17 421.38 L170.36 421.46 L171.56 421.55 L172.75 421.63 L173.94 421.71 L175.13 421.8 L176.32 421.88 L177.51 421.97 L178.7 422.06 L179.89 422.15 L181.09 422.24 L182.28 422.33 L183.47 422.42 L184.66 422.51 L185.85 422.61 L187.04 422.7 L188.23 422.8 L189.42 422.89 L190.62 422.99 L191.81 423.09 L193 423.19 L194.19 423.29 L195.38 423.39 L196.57 423.49 L197.76 423.59 L198.95 423.7 L200.14 423.8 L201.34 423.91 L202.53 424.01 L203.72 424.12 L204.91 424.23 L206.1 424.33 L207.29 424.44 L208.48 424.55 L209.67 424.66 L210.87 424.77 L212.06 424.88 L213.25 425 L214.44 425.11 L215.63 425.22 L216.82 425.33 L218.01 425.45 L219.2 425.56 L220.4 425.68 L221.59 425.79 L222.78 425.91 L223.97 426.03 L225.16 426.15 L226.35 426.26 L227.54 426.38 L228.73 426.5 L229.92 426.62 L231.12 426.74 L232.31 426.86 L233.5 426.98 L234.69 427.1 L235.88 427.22 L237.07 427.34 L238.26 427.47 L239.45 427.59 L240.65 427.71 L241.84 427.83 L243.03 427.96 L244.22 428.08 L245.41 428.2 L246.6 428.33 L247.79 428.45 L248.98 428.58 L250.18 428.7 L251.37 428.83 L252.56 428.95 L253.75 429.08 L254.94 429.2 L256.13 429.33 L257.32 429.45 L258.51 429.58 L259.7 429.7 L260.9 429.83 L262.09 429.96 L263.28 430.08 L264.47 430.21 L265.66 430.33 L266.85 430.46 L268.04 430.59 L269.23 430.71 L270.43 430.84 L271.62 430.96 L272.81 431.09 L274 431.22 L275.19 431.34 L276.38 431.47 L277.57 431.59 L278.76 431.72 L279.96 431.84 L281.15 431.97 L282.34 432.1 L283.53 432.22 L284.72 432.35 L285.91 432.47 L287.1 432.59 L288.29 432.72 L289.48 432.84 L290.68 432.97 L291.87 433.09 L293.06 433.21 L294.25 433.34 L295.44 433.46 L296.63 433.58 L297.82 433.71 L299.01 433.83 L300.21 433.95 L301.4 434.07 L302.59 434.19 L303.78 434.31 L304.97 434.44 L306.16 434.56 L307.35 434.68 L308.54 434.8 L309.74 434.92 L310.93 435.03 L312.12 435.15 L313.31 435.27 L314.5 435.39" fill="none" stroke="#2fdd2f" stroke-width="1.3"/>
<path d="M16.7 401.44 L17.89 401.79 L19.08 402.85 L20.27 404.56 L21.46 406.84 L22.66 409.6 L23.85 412.73 L25.04 416.1 L26.23 419.61 L27.42 423.12 L28.61 426.55 L29.8 429.8 L30.99 432.82 L32.19 435.55 L33.38 437.97 L34.57 440.07 L35.76 441.86 L36.95 443.36 L38.14 444.58 L39.33 445.57 L40.52 446.35 L41.72 446.95 L42.91 447.41 L44.1 447.75 L45.29 448.01 L46.48 448.19" fill="none" stroke="#4a3fe0" stroke-width="1.3"/>
<g fill="#e8121a"><circle cx="16.7" cy="298.52" r="1.45"/><circle cx="19.2" cy="300.61" r="1.45"/><circle cx="21.7" cy="302.99" r="1.45"/><circle cx="24.2" cy="305.92" r="1.45"/><circle cx="26.71" cy="310.9" r="1.45"/><circle cx="29.21" cy="315.16" r="1.45"/><circle cx="31.71" cy="319.72" r="1.45"/><circle cx="34.21" cy="324.22" r="1.45"/><circle cx="36.71" cy="327.3" r="1.45"/><circle cx="39.21" cy="329.33" r="1.45"/><circle cx="41.72" cy="330.7" r="1.45"/><circle cx="44.22" cy="331.77" r="1.45"/><circle cx="46.72" cy="332.77" r="1.45"/><circle cx="49.22" cy="333.87" r="1.45"/><circle cx="51.72" cy="335.18" r="1.45"/><circle cx="54.22" cy="336.73" r="1.45"/><circle cx="56.72" cy="338.54" r="1.45"/><circle cx="59.23" cy="340.6" r="1.45"/><circle cx="61.73" cy="342.9" r="1.45"/><circle cx="64.23" cy="345.41" r="1.45"/><circle cx="66.73" cy="348.11" r="1.45"/><circle cx="69.23" cy="350.98" r="1.45"/><circle cx="71.73" cy="353.97" r="1.45"/><circle cx="74.23" cy="357.07" r="1.45"/><circle cx="76.74" cy="360.25" r="1.45"/><circle cx="79.24" cy="363.48" r="1.45"/><circle cx="81.74" cy="366.73" r="1.45"/><circle cx="84.24" cy="369.97" r="1.45"/><circle cx="86.74" cy="373.2" r="1.45"/><circle cx="89.24" cy="376.37" r="1.45"/><circle cx="91.75" cy="379.47" r="1.45"/><circle cx="94.25" cy="382.5" r="1.45"/><circle cx="96.75" cy="385.42" r="1.45"/><circle cx="99.25" cy="388.23" r="1.45"/><circle cx="101.75" cy="390.91" r="1.45"/><circle cx="104.25" cy="393.47" r="1.45"/><circle cx="106.75" cy="395.89" r="1.45"/><circle cx="109.26" cy="398.16" r="1.45"/><circle cx="111.76" cy="400.3" r="1.45"/><circle cx="114.26" cy="402.29" r="1.45"/><circle cx="116.76" cy="404.14" r="1.45"/><circle cx="119.26" cy="405.86" r="1.45"/><circle cx="121.76" cy="407.43" r="1.45"/><circle cx="124.27" cy="408.88" r="1.45"/><circle cx="126.77" cy="410.21" r="1.45"/><circle cx="129.27" cy="411.42" r="1.45"/><circle cx="131.77" cy="412.52" r="1.45"/><circle cx="134.27" cy="413.52" r="1.45"/><circle cx="136.77" cy="414.43" r="1.45"/><circle cx="139.27" cy="415.25" r="1.45"/><circle cx="141.78" cy="415.99" r="1.45"/><circle cx="144.28" cy="416.66" r="1.45"/><circle cx="146.78" cy="417.27" r="1.45"/><circle cx="149.28" cy="417.82" r="1.45"/><circle cx="151.78" cy="418.32" r="1.45"/><circle cx="154.28" cy="418.77" r="1.45"/><circle cx="156.79" cy="419.18" r="1.45"/><circle cx="159.29" cy="419.56" r="1.45"/><circle cx="161.79" cy="419.91" r="1.45"/><circle cx="164.29" cy="420.24" r="1.45"/><circle cx="166.79" cy="420.54" r="1.45"/><circle cx="169.29" cy="420.83" r="1.45"/><circle cx="171.79" cy="421.1" r="1.45"/><circle cx="174.3" cy="421.36" r="1.45"/><circle cx="176.8" cy="421.61" r="1.45"/><circle cx="179.3" cy="421.85" r="1.45"/><circle cx="181.8" cy="422.09" r="1.45"/><circle cx="184.3" cy="422.32" r="1.45"/><circle cx="186.8" cy="422.55" r="1.45"/><circle cx="189.3" cy="422.78" r="1.45"/><circle cx="191.81" cy="423.01" r="1.45"/><circle cx="194.31" cy="423.23" r="1.45"/><circle cx="196.81" cy="423.46" r="1.45"/><circle cx="199.31" cy="423.69" r="1.45"/><circle cx="201.81" cy="423.92" r="1.45"/><circle cx="204.31" cy="424.15" r="1.45"/><circle cx="206.82" cy="424.38" r="1.45"/><circle cx="209.32" cy="424.61" r="1.45"/><circle cx="211.82" cy="424.85" r="1.45"/><circle cx="214.32" cy="425.09" r="1.45"/><circle cx="216.82" cy="425.33" r="1.45"/><circle cx="219.32" cy="425.57" r="1.45"/><circle cx="221.82" cy="425.81" r="1.45"/><circle cx="224.33" cy="426.06" r="1.45"/><circle cx="226.83" cy="426.31" r="1.45"/><circle cx="229.33" cy="426.56" r="1.45"/><circle cx="231.83" cy="426.81" r="1.45"/><circle cx="234.33" cy="427.06" r="1.45"/><circle cx="236.83" cy="427.32" r="1.45"/><circle cx="239.34" cy="427.58" r="1.45"/><circle cx="241.84" cy="427.83" r="1.45"/><circle cx="244.34" cy="428.09" r="1.45"/><circle cx="246.84" cy="428.35" r="1.45"/><circle cx="249.34" cy="428.61" r="1.45"/><circle cx="251.84" cy="428.88" r="1.45"/><circle cx="254.34" cy="429.14" r="1.45"/><circle cx="256.85" cy="429.4" r="1.45"/><circle cx="259.35" cy="429.67" r="1.45"/><circle cx="261.85" cy="429.93" r="1.45"/><circle cx="264.35" cy="430.19" r="1.45"/><circle cx="266.85" cy="430.46" r="1.45"/><circle cx="269.35" cy="430.72" r="1.45"/><circle cx="271.86" cy="430.99" r="1.45"/><circle cx="274.36" cy="431.25" r="1.45"/><circle cx="276.86" cy="431.52" r="1.45"/><circle cx="279.36" cy="431.78" r="1.45"/><circle cx="281.86" cy="432.04" r="1.45"/><circle cx="284.36" cy="432.31" r="1.45"/><circle cx="286.86" cy="432.57" r="1.45"/><circle cx="289.37" cy="432.83" r="1.45"/><circle cx="291.87" cy="433.09" r="1.45"/><circle cx="294.37" cy="433.35" r="1.45"/><circle cx="296.87" cy="433.61" r="1.45"/><circle cx="299.37" cy="433.87" r="1.45"/><circle cx="301.87" cy="434.12" r="1.45"/><circle cx="304.37" cy="434.38" r="1.45"/><circle cx="306.88" cy="434.63" r="1.45"/><circle cx="309.38" cy="434.88" r="1.45"/><circle cx="311.88" cy="435.13" r="1.45"/><circle cx="314.38" cy="435.38" r="1.45"/></g>
<path d="M16.7 298.52 L17.89 299.58 L19.08 300.54 L20.27 301.41 L21.46 302.7 L22.66 303.99 L23.85 305.35 L25.04 307.49 L26.23 309.93 L27.42 312.2 L28.61 314.11 L29.8 316.27 L30.99 318.44 L32.19 320.59 L33.38 322.79 L34.57 324.77 L35.76 326.29 L36.95 327.53 L38.14 328.56 L39.33 329.41 L40.52 330.11 L41.72 330.7 L42.91 331.23 L44.1 331.72 L45.29 332.19 L46.48 332.67 L47.67 333.17 L48.86 333.71 L50.05 334.28 L51.24 334.91 L52.44 335.6 L53.63 336.34 L54.82 337.14 L56.01 338 L57.2 338.91 L58.39 339.89 L59.58 340.92 L60.77 342 L61.97 343.13 L63.16 344.31 L64.35 345.54 L65.54 346.81 L66.73 348.11 L67.92 349.46 L69.11 350.84 L70.3 352.25 L71.5 353.68 L72.69 355.14 L73.88 356.62 L75.07 358.13 L76.26 359.64 L77.45 361.17 L78.64 362.71 L79.83 364.25 L81.02 365.8 L82.22 367.35 L83.41 368.89 L84.6 370.44 L85.79 371.97 L86.98 373.5 L88.17 375.02 L89.36 376.52 L90.55 378.01 L91.75 379.47 L92.94 380.93 L94.13 382.35 L95.32 383.76 L96.51 385.14 L97.7 386.5 L98.89 387.83 L100.08 389.14 L101.28 390.41 L102.47 391.66 L103.66 392.87 L104.85 394.06 L106.04 395.21 L107.23 396.33 L108.42 397.42 L109.61 398.48 L110.8 399.5 L112 400.5 L113.19 401.46 L114.38 402.38 L115.57 403.28 L116.76 404.14 L117.95 404.98 L119.14 405.78 L120.33 406.55 L121.53 407.29 L122.72 408 L123.91 408.69 L125.1 409.34 L126.29 409.97 L127.48 410.57 L128.67 411.14 L129.86 411.69 L131.06 412.22 L132.25 412.72 L133.44 413.2 L134.63 413.66 L135.82 414.1 L137.01 414.51 L138.2 414.91 L139.39 415.29 L140.58 415.65 L141.78 415.99 L142.97 416.32 L144.16 416.63 L145.35 416.93 L146.54 417.21 L147.73 417.48 L148.92 417.74 L150.11 417.99 L151.31 418.22 L152.5 418.45 L153.69 418.66 L154.88 418.87 L156.07 419.07 L157.26 419.26 L158.45 419.44 L159.64 419.61 L160.84 419.78 L162.03 419.94 L163.22 420.1 L164.41 420.25 L165.6 420.4 L166.79 420.54 L167.98 420.68 L169.17 420.82 L170.36 420.95 L171.56 421.08 L172.75 421.2 L173.94 421.32 L175.13 421.45 L176.32 421.56 L177.51 421.68 L178.7 421.8 L179.89 421.91 L181.09 422.02 L182.28 422.14 L183.47 422.25 L184.66 422.36 L185.85 422.47 L187.04 422.57 L188.23 422.68 L189.42 422.79 L190.62 422.9 L191.81 423.01 L193 423.12 L194.19 423.22 L195.38 423.33 L196.57 423.44 L197.76 423.55 L198.95 423.66 L200.14 423.76 L201.34 423.87 L202.53 423.98 L203.72 424.09 L204.91 424.2 L206.1 424.31 L207.29 424.42 L208.48 424.54 L209.67 424.65 L210.87 424.76 L212.06 424.87 L213.25 424.99 L214.44 425.1 L215.63 425.21 L216.82 425.33 L218.01 425.44 L219.2 425.56 L220.4 425.67 L221.59 425.79 L222.78 425.91 L223.97 426.03 L225.16 426.14 L226.35 426.26 L227.54 426.38 L228.73 426.5 L229.92 426.62 L231.12 426.74 L232.31 426.86 L233.5 426.98 L234.69 427.1 L235.88 427.22 L237.07 427.34 L238.26 427.47 L239.45 427.59 L240.65 427.71 L241.84 427.83 L243.03 427.96 L244.22 428.08 L245.41 428.2 L246.6 428.33 L247.79 428.45 L248.98 428.58 L250.18 428.7 L251.37 428.83 L252.56 428.95 L253.75 429.08 L254.94 429.2 L256.13 429.33 L257.32 429.45 L258.51 429.58 L259.7 429.7 L260.9 429.83 L262.09 429.96 L263.28 430.08 L264.47 430.21 L265.66 430.33 L266.85 430.46 L268.04 430.59 L269.23 430.71 L270.43 430.84 L271.62 430.96 L272.81 431.09 L274 431.22 L275.19 431.34 L276.38 431.47 L277.57 431.59 L278.76 431.72 L279.96 431.84 L281.15 431.97 L282.34 432.1 L283.53 432.22 L284.72 432.35 L285.91 432.47 L287.1 432.59 L288.29 432.72 L289.48 432.84 L290.68 432.97 L291.87 433.09 L293.06 433.21 L294.25 433.34 L295.44 433.46 L296.63 433.58 L297.82 433.71 L299.01 433.83 L300.21 433.95 L301.4 434.07 L302.59 434.19 L303.78 434.31 L304.97 434.44 L306.16 434.56 L307.35 434.68 L308.54 434.8 L309.74 434.92 L310.93 435.03 L312.12 435.15 L313.31 435.27 L314.5 435.39" fill="none" stroke="#222" stroke-width="1.1"/>
<path d="M16.7 264.6 V448.6 H314.5" fill="none" stroke="#4d4d55" stroke-width="1.3"/>
<path d="M76.26 448.6 v-4.8 M135.82 448.6 v-4.8 M195.38 448.6 v-4.8 M254.94 448.6 v-4.8 M314.5 448.6 v-4.8 " fill="none" stroke="#4d4d55" stroke-width="0.9"/>
<text x="76.36" y="457.9" class="t" text-anchor="middle">1°</text>
<text x="135.92" y="457.9" class="t" text-anchor="middle">2°</text>
<text x="195.48" y="457.9" class="t" text-anchor="middle">3°</text>
<text x="255.04" y="457.9" class="t" text-anchor="middle">4°</text>
<text x="314.6" y="457.9" class="t" text-anchor="middle">5°</text>
<text x="15.1" y="451.7" class="t" text-anchor="end">0.0</text>
<text x="15.1" y="405.8" class="t" text-anchor="end">0.2</text>
<text x="15.1" y="359.9" class="t" text-anchor="end">0.4</text>
<text x="15.1" y="314" class="t" text-anchor="end">0.6</text>
<text x="15.1" y="268.1" class="t" text-anchor="end">0.8</text>
<text x="16.8" y="259.1" class="m" text-anchor="middle">MPOD</text>
<text x="319.3" y="451.4" class="e">eccentricity</text>
<text x="307.5" y="277.7" class="L" text-anchor="middle">c</text>
<path d="M398.79 258 V496.3" stroke="#e05050" stroke-width="1" stroke-opacity="0.85" stroke-dasharray="2.7 2.5" fill="none"/>
<path d="M412.99 258 V496.3" stroke="#f0a0a0" stroke-width="1" stroke-opacity="0.85" stroke-dasharray="2.7 2.5" fill="none"/>
<path d="M438.01 258 V496.3" stroke="#40e040" stroke-width="1" stroke-opacity="0.85" stroke-dasharray="2.7 2.5" fill="none"/>
<path d="M458.8 258 V496.3" stroke="#333" stroke-width="1" stroke-opacity="0.85" stroke-dasharray="2.7 2.5" fill="none"/>
<path d="M513.71 258 V496.3" stroke="#a040c0" stroke-width="1" stroke-opacity="0.85" stroke-dasharray="2.7 2.5" fill="none"/>
<path d="M575.21 258 V496.3" stroke="#4040e0" stroke-width="1" stroke-opacity="0.85" stroke-dasharray="2.7 2.5" fill="none"/>
<path d="M378.5 441.58 L379.75 443.06 L380.99 445.36 L382.24 448.3 L383.48 451.7 L384.73 455.38 L385.97 459.16 L387.21 462.86 L388.46 466.3 L389.7 469.33 L390.95 471.94 L392.19 474.13 L393.44 475.93 L394.69 477.35 L395.93 478.4 L397.18 479.1 L398.42 479.46 L399.67 479.49 L400.91 479.24 L402.15 478.73 L403.4 477.99 L404.64 477.08 L405.89 476.01 L407.13 474.84 L408.38 473.59 L409.62 472.3 L410.87 471 L412.12 469.72 L413.36 468.44 L414.61 467.2 L415.85 465.99 L417.1 464.82 L418.34 463.71 L419.58 462.66 L420.83 461.68 L422.07 460.78 L423.32 459.97 L424.56 459.25 L425.81 458.61 L427.06 458.04 L428.3 457.55 L429.55 457.13 L430.79 456.78 L432.03 456.48 L433.28 456.23 L434.52 456.04 L435.77 455.9 L437.01 455.8 L438.26 455.73 L439.5 455.7 L440.75 455.7 L442 455.73 L443.24 455.79 L444.49 455.88 L445.73 456 L446.98 456.14 L448.22 456.31 L449.47 456.5 L450.71 456.71 L451.95 456.94 L453.2 457.19 L454.44 457.45 L455.69 457.74 L456.94 458.03 L458.18 458.34 L459.43 458.66 L460.67 458.99 L461.92 459.33 L463.16 459.68 L464.4 460.03 L465.65 460.39 L466.89 460.75 L468.14 461.11 L469.38 461.48 L470.63 461.84 L471.88 462.21 L473.12 462.57 L474.37 462.92 L475.61 463.27 L476.86 463.61 L478.1 463.95 L479.35 464.27 L480.59 464.59 L481.84 464.89 L483.08 465.18 L484.32 465.45 L485.57 465.71 L486.81 465.95 L488.06 466.17 L489.31 466.38 L490.55 466.58 L491.8 466.76 L493.04 466.94 L494.29 467.1 L495.53 467.25 L496.77 467.39 L498.02 467.52 L499.26 467.64 L500.51 467.76 L501.75 467.87 L503 467.98 L504.25 468.08 L505.49 468.18 L506.74 468.27 L507.98 468.36 L509.23 468.44 L510.47 468.51 L511.72 468.57 L512.96 468.62 L514.21 468.67 L515.45 468.7 L516.7 468.72 L517.94 468.73 L519.18 468.74 L520.43 468.73 L521.67 468.71 L522.92 468.68 L524.16 468.64 L525.41 468.6 L526.65 468.54 L527.9 468.48 L529.14 468.41 L530.39 468.33 L531.63 468.25 L532.88 468.15 L534.12 468.05 L535.37 467.95 L536.62 467.84 L537.86 467.72 L539.11 467.59 L540.35 467.46 L541.6 467.33 L542.84 467.19 L544.09 467.04 L545.33 466.89 L546.58 466.73 L547.82 466.57 L549.07 466.41 L550.31 466.24 L551.56 466.07 L552.8 465.89 L554.04 465.71 L555.29 465.52 L556.53 465.33 L557.78 465.14 L559.02 464.95 L560.27 464.75 L561.51 464.55 L562.76 464.35 L564 464.14 L565.25 463.94 L566.5 463.73 L567.74 463.52 L568.99 463.3 L570.23 463.09 L571.48 462.87 L572.72 462.66 L573.97 462.44 L575.21 462.22 L576.46 462 L577.7 461.78 L578.95 461.56 L580.19 461.34 L581.43 461.12 L582.68 460.9 L583.92 460.68 L585.17 460.46 L586.41 460.23 L587.66 460.01 L588.9 459.79 L590.15 459.57 L591.39 459.35 L592.64 459.13 L593.88 458.91 L595.13 458.7 L596.38 458.48 L597.62 458.26 L598.87 458.05 L600.11 457.83 L601.36 457.62 L602.6 457.41 L603.85 457.2 L605.09 456.99 L606.34 456.78 L607.58 456.58 L608.83 456.37 L610.07 456.17 L611.32 455.97 L612.56 455.77 L613.81 455.58 L615.05 455.38 L616.3 455.19 L617.54 455 L618.78 454.81 L620.03 454.63 L621.27 454.45 L622.52 454.27 L623.76 454.09 L625.01 453.92 L626.25 453.75 L627.5 453.58 L628.75 453.42 L629.99 453.25 L631.24 453.1 L632.48 452.94 L633.72 452.79 L634.97 452.65 L636.21 452.5 L637.46 452.36 L638.7 452.23 L639.95 452.1 L641.19 451.97 L642.44 451.85 L643.68 451.73 L644.93 451.61 L646.17 451.5 L647.42 451.4 L648.66 451.3 L649.91 451.2 L651.15 451.11 L652.4 451.02 L653.64 450.94 L654.89 450.86 L656.13 450.79 L657.38 450.73 L658.62 450.67 L659.87 450.61 L661.12 450.56 L662.36 450.52 L663.61 450.48 L664.85 450.45 L666.1 450.42 L667.34 450.4 L668.59 450.38 L669.83 450.38 L671.08 450.37 L672.32 450.38 L673.57 450.39 L674.81 450.41 L676.06 450.43 L677.3 450.46" fill="none" stroke="#f08a84" stroke-width="1.4"/>
<path d="M396.12 497.51 L397.06 479.42 L398 462.07 L398.94 445.91 L399.88 431.26 L400.82 418.04 L401.76 406.16 L402.7 395.51 L403.64 385.96 L404.58 377.44 L405.52 369.88 L406.46 363.23 L407.4 357.45 L408.34 352.48 L409.28 348.3 L410.22 344.92 L411.16 342.43 L412.1 340.87 L413.04 340.29 L413.98 340.73 L414.92 342.07 L415.87 344.17 L416.81 346.89 L417.75 350.09 L418.69 353.64 L419.63 357.44 L420.57 361.49 L421.51 365.78 L422.45 370.3 L423.39 375.05 L424.33 380.03 L425.27 385.22 L426.21 390.62 L427.15 396.19 L428.09 401.84 L429.03 407.47 L429.97 412.99 L430.91 418.32 L431.85 423.36 L432.79 428.03 L433.73 432.34 L434.67 436.31 L435.61 439.99 L436.55 443.41 L437.49 446.62 L438.44 449.65 L439.38 452.51 L440.32 455.21 L441.26 457.74 L442.2 460.1 L443.14 462.29 L444.08 464.29 L445.02 466.11 L445.96 467.75 L446.9 469.21 L447.84 470.52 L448.78 471.68 L449.72 472.7 L450.66 473.59 L451.6 474.36 L452.54 475.02 L453.48 475.58 L454.42 476.05 L455.36 476.43 L456.3 476.72 L457.24 476.93 L458.18 477.06 L459.12 477.11 L460.06 477.08 L461.01 476.98 L461.95 476.82 L462.89 476.6 L463.83 476.34 L464.77 476.03 L465.71 475.69 L466.65 475.32 L467.59 474.94 L468.53 474.53 L469.47 474.12 L470.41 473.7 L471.35 473.26 L472.29 472.82 L473.23 472.37 L474.17 471.91 L475.11 471.44 L476.05 470.96 L476.99 470.47 L477.93 469.96 L478.87 469.45 L479.81 468.93 L480.75 468.4 L481.69 467.86 L482.63 467.31 L483.58 466.75 L484.52 466.18 L485.46 465.6 L486.4 465.02 L487.34 464.42 L488.28 463.82 L489.22 463.21 L490.16 462.6 L491.1 461.98 L492.04 461.36 L492.98 460.74 L493.92 460.12 L494.86 459.5 L495.8 458.88 L496.74 458.27 L497.68 457.65 L498.62 457.05 L499.56 456.44 L500.5 455.85 L501.44 455.26 L502.38 454.68 L503.32 454.1 L504.26 453.54 L505.2 452.99 L506.14 452.45 L507.09 451.91 L508.03 451.38 L508.97 450.86 L509.91 450.34 L510.85 449.83 L511.79 449.32 L512.73 448.82 L513.67 448.32 L514.61 447.82 L515.55 447.33 L516.49 446.84 L517.43 446.35 L518.37 445.86 L519.31 445.38 L520.25 444.91 L521.19 444.44 L522.13 443.98 L523.07 443.52 L524.01 443.07 L524.95 442.62 L525.89 442.19 L526.83 441.76 L527.77 441.34 L528.71 440.93 L529.66 440.53 L530.6 440.14 L531.54 439.76 L532.48 439.39 L533.42 439.03 L534.36 438.69 L535.3 438.35 L536.24 438.03 L537.18 437.72 L538.12 437.42 L539.06 437.14 L540 436.86 L540.94 436.59 L541.88 436.33 L542.82 436.09 L543.76 435.85 L544.7 435.62 L545.64 435.39 L546.58 435.18 L547.52 434.97 L548.46 434.76 L549.4 434.57 L550.34 434.38 L551.28 434.19 L552.23 434.01 L553.17 433.83 L554.11 433.66 L555.05 433.49 L555.99 433.32 L556.93 433.16 L557.87 433.01 L558.81 432.86 L559.75 432.71 L560.69 432.57 L561.63 432.44 L562.57 432.31 L563.51 432.19 L564.45 432.08 L565.39 431.97 L566.33 431.86 L567.27 431.77 L568.21 431.68 L569.15 431.6 L570.09 431.52 L571.03 431.46 L571.97 431.4 L572.91 431.35 L573.85 431.31 L574.8 431.27 L575.74 431.25 L576.68 431.23 L577.62 431.22 L578.56 431.22 L579.5 431.23 L580.44 431.25 L581.38 431.27 L582.32 431.3 L583.26 431.34 L584.2 431.38 L585.14 431.43 L586.08 431.49 L587.02 431.55 L587.96 431.62 L588.9 431.69 L589.84 431.77 L590.78 431.85 L591.72 431.93 L592.66 432.03 L593.6 432.12 L594.54 432.22 L595.48 432.32 L596.42 432.43 L597.36 432.53 L598.31 432.65 L599.25 432.76 L600.19 432.88 L601.13 432.99 L602.07 433.11 L603.01 433.23 L603.95 433.35 L604.89 433.48 L605.83 433.6 L606.77 433.73 L607.71 433.85 L608.65 433.98 L609.59 434.11 L610.53 434.24 L611.47 434.37 L612.41 434.5 L613.35 434.64 L614.29 434.77 L615.23 434.91 L616.17 435.05 L617.11 435.18 L618.05 435.32 L618.99 435.46 L619.93 435.61 L620.88 435.75 L621.82 435.89 L622.76 436.04 L623.7 436.18 L624.64 436.33 L625.58 436.48 L626.52 436.62 L627.46 436.77 L628.4 436.92 L629.34 437.08 L630.28 437.23 L631.22 437.38 L632.16 437.53 L633.1 437.69 L634.04 437.84 L634.98 438 L635.92 438.15 L636.86 438.31 L637.8 438.47 L638.74 438.62 L639.68 438.78 L640.62 438.93 L641.56 439.09 L642.5 439.25 L643.45 439.4 L644.39 439.56 L645.33 439.71 L646.27 439.87 L647.21 440.02 L648.15 440.18 L649.09 440.33 L650.03 440.48 L650.97 440.63 L651.91 440.78 L652.85 440.93 L653.79 441.08 L654.73 441.23 L655.67 441.37 L656.61 441.52 L657.55 441.66 L658.49 441.8 L659.43 441.94 L660.37 442.08 L661.31 442.22 L662.25 442.35 L663.19 442.49 L664.13 442.62 L665.07 442.75 L666.02 442.88 L666.96 443 L667.9 443.12 L668.84 443.25 L669.78 443.36 L670.72 443.48 L671.66 443.59 L672.6 443.71 L673.54 443.81 L674.48 443.92 L675.42 444.02 L676.36 444.12 L677.3 444.22" fill="none" stroke="#f020f0" stroke-width="1.5"/>
<g fill="#e8121a"><circle cx="378.5" cy="291.35" r="2.05"/><circle cx="383.73" cy="293.54" r="2.05"/><circle cx="388.96" cy="296.03" r="2.05"/><circle cx="394.19" cy="299.09" r="2.05"/><circle cx="399.42" cy="304.3" r="2.05"/><circle cx="404.64" cy="308.75" r="2.05"/><circle cx="409.87" cy="313.52" r="2.05"/><circle cx="415.1" cy="318.23" r="2.05"/><circle cx="420.33" cy="321.45" r="2.05"/><circle cx="425.56" cy="323.57" r="2.05"/><circle cx="430.79" cy="325.01" r="2.05"/><circle cx="436.02" cy="326.12" r="2.05"/><circle cx="441.25" cy="327.17" r="2.05"/><circle cx="446.48" cy="328.33" r="2.05"/><circle cx="451.71" cy="329.69" r="2.05"/><circle cx="456.94" cy="331.31" r="2.05"/><circle cx="462.16" cy="333.2" r="2.05"/><circle cx="467.39" cy="335.36" r="2.05"/><circle cx="472.62" cy="337.76" r="2.05"/><circle cx="477.85" cy="340.39" r="2.05"/><circle cx="483.08" cy="343.22" r="2.05"/><circle cx="488.31" cy="346.21" r="2.05"/><circle cx="493.54" cy="349.34" r="2.05"/><circle cx="498.77" cy="352.59" r="2.05"/><circle cx="504" cy="355.91" r="2.05"/><circle cx="509.23" cy="359.28" r="2.05"/><circle cx="514.45" cy="362.68" r="2.05"/><circle cx="519.68" cy="366.08" r="2.05"/><circle cx="524.91" cy="369.45" r="2.05"/><circle cx="530.14" cy="372.76" r="2.05"/><circle cx="535.37" cy="376.01" r="2.05"/><circle cx="540.6" cy="379.17" r="2.05"/><circle cx="545.83" cy="382.23" r="2.05"/><circle cx="551.06" cy="385.17" r="2.05"/><circle cx="556.29" cy="387.97" r="2.05"/><circle cx="561.51" cy="390.65" r="2.05"/><circle cx="566.74" cy="393.18" r="2.05"/><circle cx="571.97" cy="395.56" r="2.05"/><circle cx="577.2" cy="397.79" r="2.05"/><circle cx="582.43" cy="399.87" r="2.05"/><circle cx="587.66" cy="401.81" r="2.05"/><circle cx="592.89" cy="403.6" r="2.05"/><circle cx="598.12" cy="405.25" r="2.05"/><circle cx="603.35" cy="406.77" r="2.05"/><circle cx="608.58" cy="408.16" r="2.05"/><circle cx="613.81" cy="409.42" r="2.05"/><circle cx="619.03" cy="410.57" r="2.05"/><circle cx="624.26" cy="411.62" r="2.05"/><circle cx="629.49" cy="412.57" r="2.05"/><circle cx="634.72" cy="413.43" r="2.05"/><circle cx="639.95" cy="414.2" r="2.05"/><circle cx="645.18" cy="414.9" r="2.05"/><circle cx="650.41" cy="415.54" r="2.05"/><circle cx="655.64" cy="416.11" r="2.05"/><circle cx="660.87" cy="416.63" r="2.05"/><circle cx="666.1" cy="417.1" r="2.05"/><circle cx="671.32" cy="417.54" r="2.05"/><circle cx="676.55" cy="417.93" r="2.05"/></g>
<path d="M378.5 291.35 L379.75 291.87 L380.99 292.46 L382.24 293.03 L383.48 293.47 L384.73 293.86 L385.97 294.38 L387.21 295.01 L388.46 295.72 L389.7 296.45 L390.95 297.08 L392.19 297.72 L393.44 298.5 L394.69 299.54 L395.93 300.73 L397.18 302 L398.42 303.28 L399.67 304.55 L400.91 305.66 L402.15 306.66 L403.4 307.65 L404.64 308.75 L405.89 309.92 L407.13 311.06 L408.38 312.19 L409.62 313.3 L410.87 314.43 L412.12 315.59 L413.36 316.73 L414.61 317.82 L415.85 318.8 L417.1 319.65 L418.34 320.39 L419.58 321.07 L420.83 321.69 L422.07 322.25 L423.32 322.76 L424.56 323.23 L425.81 323.65 L427.06 324.04 L428.3 324.39 L429.55 324.71 L430.79 325.01 L432.03 325.29 L433.28 325.56 L434.52 325.82 L435.77 326.07 L437.01 326.32 L438.26 326.57 L439.5 326.81 L440.75 327.07 L442 327.32 L443.24 327.59 L444.49 327.86 L445.73 328.15 L446.98 328.45 L448.22 328.75 L449.47 329.08 L450.71 329.41 L451.95 329.76 L453.2 330.13 L454.44 330.51 L455.69 330.9 L456.94 331.31 L458.18 331.74 L459.43 332.18 L460.67 332.64 L461.92 333.11 L463.16 333.59 L464.4 334.1 L465.65 334.61 L466.89 335.14 L468.14 335.69 L469.38 336.25 L470.63 336.82 L471.88 337.41 L473.12 338.01 L474.37 338.62 L475.61 339.24 L476.86 339.88 L478.1 340.52 L479.35 341.18 L480.59 341.85 L481.84 342.53 L483.08 343.22 L484.32 343.92 L485.57 344.62 L486.81 345.34 L488.06 346.06 L489.31 346.8 L490.55 347.54 L491.8 348.29 L493.04 349.04 L494.29 349.8 L495.53 350.57 L496.77 351.34 L498.02 352.12 L499.26 352.9 L500.51 353.69 L501.75 354.48 L503 355.27 L504.25 356.07 L505.49 356.87 L506.74 357.67 L507.98 358.48 L509.23 359.28 L510.47 360.09 L511.72 360.9 L512.96 361.71 L514.21 362.52 L515.45 363.33 L516.7 364.14 L517.94 364.95 L519.18 365.75 L520.43 366.56 L521.67 367.36 L522.92 368.17 L524.16 368.97 L525.41 369.76 L526.65 370.56 L527.9 371.35 L529.14 372.14 L530.39 372.92 L531.63 373.7 L532.88 374.48 L534.12 375.25 L535.37 376.01 L536.62 376.77 L537.86 377.53 L539.11 378.28 L540.35 379.02 L541.6 379.76 L542.84 380.5 L544.09 381.22 L545.33 381.94 L546.58 382.65 L547.82 383.36 L549.07 384.06 L550.31 384.75 L551.56 385.44 L552.8 386.12 L554.04 386.79 L555.29 387.45 L556.53 388.1 L557.78 388.75 L559.02 389.39 L560.27 390.02 L561.51 390.65 L562.76 391.26 L564 391.87 L565.25 392.47 L566.5 393.06 L567.74 393.64 L568.99 394.21 L570.23 394.78 L571.48 395.34 L572.72 395.89 L573.97 396.43 L575.21 396.96 L576.46 397.48 L577.7 397.99 L578.95 398.5 L580.19 399 L581.43 399.49 L582.68 399.97 L583.92 400.44 L585.17 400.91 L586.41 401.36 L587.66 401.81 L588.9 402.25 L590.15 402.68 L591.39 403.1 L592.64 403.52 L593.88 403.93 L595.13 404.32 L596.38 404.72 L597.62 405.1 L598.87 405.48 L600.11 405.84 L601.36 406.21 L602.6 406.56 L603.85 406.91 L605.09 407.24 L606.34 407.58 L607.58 407.9 L608.83 408.22 L610.07 408.53 L611.32 408.83 L612.56 409.13 L613.81 409.42 L615.05 409.71 L616.3 409.98 L617.54 410.26 L618.78 410.52 L620.03 410.78 L621.27 411.03 L622.52 411.28 L623.76 411.52 L625.01 411.76 L626.25 411.99 L627.5 412.22 L628.75 412.44 L629.99 412.65 L631.24 412.86 L632.48 413.07 L633.72 413.27 L634.97 413.46 L636.21 413.66 L637.46 413.84 L638.7 414.02 L639.95 414.2 L641.19 414.37 L642.44 414.54 L643.68 414.71 L644.93 414.87 L646.17 415.03 L647.42 415.18 L648.66 415.33 L649.91 415.48 L651.15 415.62 L652.4 415.76 L653.64 415.9 L654.89 416.03 L656.13 416.16 L657.38 416.29 L658.62 416.41 L659.87 416.53 L661.12 416.65 L662.36 416.77 L663.61 416.88 L664.85 417 L666.1 417.1 L667.34 417.21 L668.59 417.31 L669.83 417.42 L671.08 417.52 L672.32 417.61 L673.57 417.71 L674.81 417.81 L676.06 417.9 L677.3 417.99" fill="none" stroke="#111" stroke-width="1.3"/>
<path d="M378.5 256 V496.2 M371 448.3 H678" fill="none" stroke="#4d4d55" stroke-width="1.4"/>
<path d="M503 448.3 v-7 M627.5 448.3 v-7" fill="none" stroke="#4d4d55" stroke-width="1"/>
<circle cx="398.79" cy="303.67" r="1.7" fill="#2020e0"/>
<path d="M396.19 448.3 l2.6 -2.6 l2.6 2.6 l-2.6 2.6 Z" fill="#d01010" stroke="#d01010" stroke-width="0.7" stroke-linejoin="round"/>
<text x="398.79" y="270.9" class="dl" text-anchor="middle">dd1</text>
<circle cx="412.99" cy="316.4" r="1.7" fill="#2020e0"/>
<path d="M410.39 448.3 l2.6 -2.6 l2.6 2.6 l-2.6 2.6 Z" fill="#f08080" stroke="#f08080" stroke-width="0.7" stroke-linejoin="round"/>
<text x="412.99" y="283.4" class="dl" text-anchor="middle">dd2</text>
<circle cx="438.01" cy="326.52" r="1.7" fill="#2020e0"/>
<path d="M435.41 448.3 l2.6 -2.6 l2.6 2.6 l-2.6 2.6 Z" fill="#20e020" stroke="#20e020" stroke-width="0.7" stroke-linejoin="round"/>
<text x="438.01" y="270.9" class="dl" text-anchor="middle">dd3</text>
<circle cx="458.8" cy="331.96" r="1.7" fill="#2020e0"/>
<path d="M456.2 448.3 l2.6 -2.6 l2.6 2.6 l-2.6 2.6 Z" fill="#000" stroke="#000" stroke-width="0.7" stroke-linejoin="round"/>
<text x="458.8" y="283.4" class="dl" text-anchor="middle">dd4</text>
<circle cx="513.71" cy="362.2" r="1.7" fill="#2020e0"/>
<path d="M511.11 448.3 l2.6 -2.6 l2.6 2.6 l-2.6 2.6 Z" fill="#600070" stroke="#600070" stroke-width="0.7" stroke-linejoin="round"/>
<text x="513.71" y="270.9" class="dl" text-anchor="middle">dd5</text>
<circle cx="575.21" cy="396.96" r="1.7" fill="#2020e0"/>
<path d="M572.61 448.3 l2.6 -2.6 l2.6 2.6 l-2.6 2.6 Z" fill="#1010c0" stroke="#1010c0" stroke-width="0.7" stroke-linejoin="round"/>
<text x="575.21" y="283" class="dl" text-anchor="middle">dd6</text>
<text x="375.5" y="498.5" class="td" text-anchor="end">−0.2</text>
<text x="375.5" y="402.5" class="td" text-anchor="end">0.2</text>
<text x="375.5" y="354.5" class="td" text-anchor="end">0.4</text>
<text x="375.5" y="306.5" class="td" text-anchor="end">0.6</text>
<text x="375.5" y="258.5" class="td" text-anchor="end">0.8</text>
<text x="502" y="459.3" class="td" text-anchor="middle">1°</text>
<text x="627" y="459.3" class="td" text-anchor="middle">2°</text>
<text x="364.3" y="248.6" class="td" style="font-size:9.6px">MPOD</text>
<text x="674.3" y="277.8" class="L" text-anchor="middle">d</text>
<path d="M609 335 H624" stroke="#333" stroke-width="1.3"/>
<text x="629.3" y="338.3" class="lg">M<tspan dy="1.7" dx="-0.4" font-size="7.4" font-style="normal">3</tspan><tspan font-size="7.4" dx="1.6">G</tspan><tspan dy="-3.6" dx="0.3" font-size="10.5" font-style="normal"></tspan></text>
<path d="M609 351.8 H624" stroke="#f08a84" stroke-width="1.3"/>
<text x="629.3" y="355.1" class="lg">M<tspan dy="1.7" dx="-0.4" font-size="7.4" font-style="normal">3</tspan><tspan font-size="7.4" dx="1.6">G</tspan><tspan dy="-3.6" dx="0.3" font-size="10.5" font-style="normal">'</tspan></text>
<path d="M609 368.6 H624" stroke="#f020f0" stroke-width="1.3"/>
<text x="629.3" y="371.9" class="lg">M<tspan dy="1.7" dx="-0.4" font-size="7.4" font-style="normal">3</tspan><tspan font-size="7.4" dx="1.6">G</tspan><tspan dy="-3.6" dx="0.3" font-size="10.5" font-style="normal">&quot;</tspan></text>
</svg>
</body></html>
